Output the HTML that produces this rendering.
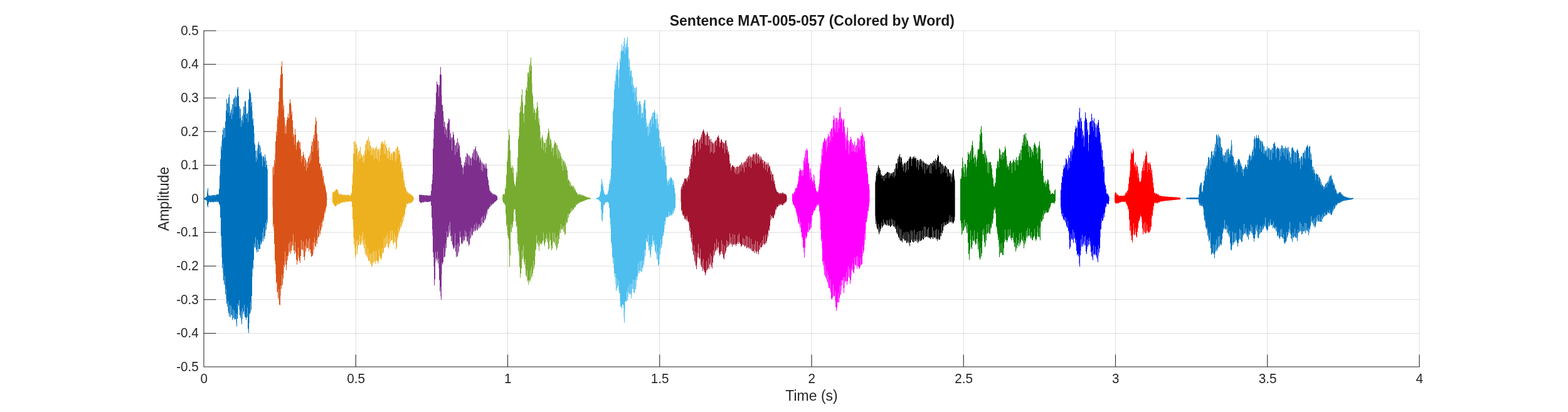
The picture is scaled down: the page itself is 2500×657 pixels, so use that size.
<!DOCTYPE html>
<html><head><meta charset="utf-8"><title>Sentence MAT-005-057</title>
<style>html,body{margin:0;padding:0;background:#fff;width:2500px;height:657px;overflow:hidden}svg{display:block}</style></head>
<body><svg width="2500" height="657" viewBox="0 0 2500 657">
<rect width="2500" height="657" fill="#fff"/>
<g stroke="#262626" stroke-opacity="0.15" stroke-width="1.04" fill="none"><path d="M567.25 49.0V585.0"/><path d="M809.50 49.0V585.0"/><path d="M1051.75 49.0V585.0"/><path d="M1294.00 49.0V585.0"/><path d="M1536.25 49.0V585.0"/><path d="M1778.50 49.0V585.0"/><path d="M2020.75 49.0V585.0"/><path d="M2263.00 49.0V585.0"/><path d="M325.0 531.40H2263.0"/><path d="M325.0 477.80H2263.0"/><path d="M325.0 424.20H2263.0"/><path d="M325.0 370.60H2263.0"/><path d="M325.0 317.00H2263.0"/><path d="M325.0 263.40H2263.0"/><path d="M325.0 209.80H2263.0"/><path d="M325.0 156.20H2263.0"/><path d="M325.0 102.60H2263.0"/><path d="M325.0 49.00H2263.0"/></g>
<path d="M567.25 585.0V565.6M809.50 585.0V565.6M1051.75 585.0V565.6M1294.00 585.0V565.6M1536.25 585.0V565.6M1778.50 585.0V565.6M2020.75 585.0V565.6M2263.00 585.0V565.6M325.0 531.40H344.4M325.0 477.80H344.4M325.0 424.20H344.4M325.0 370.60H344.4M325.0 317.00H344.4M325.0 263.40H344.4M325.0 209.80H344.4M325.0 156.20H344.4M325.0 102.60H344.4M325.0 49.00H344.4" stroke="#262626" stroke-width="1.04" fill="none"/>
<path d="M325.0 317.0V316.0H326.0V315.5H327.0V315.1H328.0V314.1H329.0V313.2H330.0V307.2H331.0V300.0H332.0V311.7H333.0V311.8H334.0V311.8H335.0V313.0H336.0V311.6H337.0V312.5H338.0V311.2H339.0V311.2H340.0V311.6H341.0V310.8H342.0V310.9H343.0V312.6H344.0V310.5H345.0V311.0H346.0V309.8H347.0V309.4H348.0V310.6H349.0V301.0H350.0V280.8H351.0V253.9H352.0V233.5H353.0V239.2H354.0V215.2H355.0V207.1H356.0V221.0H357.0V204.1H358.0V219.0H359.0V193.5H360.0V176.5H361.0V158.0H362.0V165.0H363.0V179.4H364.0V155.6H365.0V150.4H366.0V184.7H367.0V179.7H368.0V174.9H369.0V189.7H370.0V166.1H371.0V181.8H372.0V158.0H373.0V156.1H374.0V170.3H375.0V152.2H376.0V169.4H377.0V154.4H378.0V142.3H379.0V138.9H380.0V153.1H381.0V169.4H382.0V188.2H383.0V173.4H384.0V201.9H385.0V191.7H386.0V184.6H387.0V195.5H388.0V170.0H389.0V182.8H390.0V161.8H391.0V161.0H392.0V189.0H393.0V181.5H394.0V180.8H395.0V194.5H396.0V158.4H397.0V142.0H398.0V146.2H399.0V148.4H400.0V169.4H401.0V162.9H402.0V191.8H403.0V188.9H404.0V200.2H405.0V227.5H406.0V230.4H407.0V240.2H408.0V257.7H409.0V240.3H410.0V253.7H411.0V230.5H412.0V226.0H413.0V244.8H414.0V231.7H415.0V245.3H416.0V242.5H417.0V248.6H418.0V264.9H419.0V248.7H420.0V249.4H421.0V257.0H422.0V246.3H423.0V266.3H424.0V256.1H425.0V263.3H426.0V269.2H426.8V355.8V355.8H426.0V350.4H425.0V366.1H424.0V355.7H423.0V376.4H422.0V380.9H421.0V363.4H420.0V384.9H419.0V371.1H418.0V386.2H417.0V389.8H416.0V384.6H415.0V397.1H414.0V397.2H413.0V389.8H412.0V401.8H411.0V382.3H410.0V402.3H409.0V398.2H408.0V378.3H407.0V395.3H406.0V387.9H405.0V414.6H404.0V429.2H403.0V426.4H402.0V472.1H401.0V494.1H400.0V482.2H399.0V500.3H398.0V500.5H397.0V530.8H396.0V524.4H395.0V490.5H394.0V506.2H393.0V510.0H392.0V506.2H391.0V505.2H390.0V485.9H389.0V496.8H388.0V500.6H387.0V491.5H386.0V517.0H385.0V496.4H384.0V506.8H383.0V502.8H382.0V478.8H381.0V487.5H380.0V484.5H379.0V508.0H378.0V520.5H377.0V499.7H376.0V509.0H375.0V508.9H374.0V495.7H373.0V506.8H372.0V492.9H371.0V510.2H370.0V502.1H369.0V488.3H368.0V505.9H367.0V486.1H366.0V505.1H365.0V498.8H364.0V480.4H363.0V488.5H362.0V483.9H361.0V461.6H360.0V469.5H359.0V440.0H358.0V453.5H357.0V447.3H356.0V420.5H355.0V428.1H354.0V393.9H353.0V376.2H352.0V347.1H351.0V326.5H350.0V325.7H349.0V322.8H348.0V321.4H347.0V322.4H346.0V320.6H345.0V321.9H344.0V322.0H343.0V320.8H342.0V322.3H341.0V322.5H340.0V322.3H339.0V322.4H338.0V321.3H337.0V322.4H336.0V322.5H335.0V321.3H334.0V322.1H333.0V324.4H332.0V330.4H331.0V327.8H330.0V319.9H329.0V319.5H328.0V319.0H327.0V318.5H326.0V318.0H325.0Z" fill="#0072BD"/>
<path d="M330.0 303.4H331.0V307.2H330.0ZM332.0 309.4H333.0V311.7H332.0ZM332.0 324.4H333.0V325.2H332.0ZM334.0 321.3H335.0V322.0H334.0ZM335.0 311.8H336.0V313.0H335.0ZM337.0 311.3H338.0V312.5H337.0ZM337.0 321.3H338.0V322.3H337.0ZM340.0 311.0H341.0V311.6H340.0ZM342.0 320.8H343.0V321.9H342.0ZM343.0 310.8H344.0V312.6H343.0ZM345.0 310.3H346.0V311.0H345.0ZM345.0 320.6H346.0V321.8H345.0ZM347.0 321.4H348.0V322.2H347.0ZM348.0 309.2H349.0V310.6H348.0ZM350.0 276.9H351.0V280.8H350.0ZM350.0 326.5H351.0V329.5H350.0ZM353.0 224.2H354.0V239.2H353.0ZM353.0 393.9H354.0V410.6H353.0ZM355.0 420.5H356.0V435.5H355.0ZM356.0 202.5H357.0V221.0H356.0ZM358.0 204.0H359.0V219.0H358.0ZM358.0 440.0H359.0V455.0H358.0ZM360.0 461.6H361.0V476.6H360.0ZM363.0 164.4H364.0V179.4H363.0ZM363.0 480.4H364.0V495.4H363.0ZM366.0 169.7H367.0V184.7H366.0ZM366.0 486.1H367.0V501.1H366.0ZM368.0 488.3H369.0V503.3H368.0ZM369.0 171.9H370.0V189.7H369.0ZM371.0 166.8H372.0V181.8H371.0ZM371.0 492.9H372.0V507.9H371.0ZM373.0 495.7H374.0V510.7H373.0ZM374.0 155.3H375.0V170.3H374.0ZM376.0 154.4H377.0V169.4H376.0ZM376.0 499.7H377.0V514.7H376.0ZM379.0 484.5H380.0V499.5H379.0ZM381.0 478.8H382.0V493.8H381.0ZM382.0 173.2H383.0V188.2H382.0ZM384.0 186.9H385.0V201.9H384.0ZM384.0 496.4H385.0V511.4H384.0ZM386.0 491.5H387.0V508.9H386.0ZM387.0 180.5H388.0V195.5H387.0ZM389.0 169.5H390.0V182.8H389.0ZM389.0 485.9H390.0V500.9H389.0ZM392.0 171.6H393.0V189.0H392.0ZM394.0 490.5H395.0V505.5H394.0ZM395.0 177.6H396.0V194.5H395.0ZM397.0 500.5H398.0V515.5H397.0ZM399.0 482.2H400.0V498.3H399.0ZM400.0 154.4H401.0V169.4H400.0ZM402.0 176.8H403.0V191.8H402.0ZM402.0 426.4H403.0V441.4H402.0ZM405.0 212.4H406.0V227.5H405.0ZM405.0 387.9H406.0V394.0H405.0ZM407.0 378.3H408.0V393.3H407.0ZM408.0 251.0H409.0V257.7H408.0ZM410.0 237.0H411.0V253.7H410.0ZM410.0 382.3H411.0V397.3H410.0ZM412.0 389.8H413.0V397.1H412.0ZM413.0 231.3H414.0V244.8H413.0ZM415.0 235.6H416.0V245.3H415.0ZM415.0 384.6H416.0V389.7H415.0ZM418.0 251.6H419.0V264.9H418.0ZM418.0 371.1H419.0V381.5H418.0ZM420.0 363.4H421.0V378.4H420.0ZM421.0 251.8H422.0V257.0H421.0ZM423.0 250.6H424.0V266.3H423.0ZM423.0 355.7H424.0V368.6H423.0ZM425.0 350.4H426.0V358.9H425.0Z" fill="#0072BD" fill-opacity="0.5"/>
<path d="M434.6 317.0V267.4H435.0V265.2H436.0V278.6H437.0V254.9H438.0V260.5H439.0V225.4H440.0V210.0H441.0V215.7H442.0V185.4H443.0V190.3H444.0V162.0H445.0V141.1H446.0V139.8H447.0V119.2H448.0V106.0H449.0V97.7H450.0V117.6H451.0V174.3H452.0V168.3H453.0V187.2H454.0V212.7H455.0V200.6H456.0V212.7H457.0V191.2H458.0V186.8H459.0V181.0H460.0V188.2H461.0V164.9H462.0V158.3H463.0V164.2H464.0V183.0H465.0V177.6H466.0V192.0H467.0V218.2H468.0V214.0H469.0V230.4H470.0V205.5H471.0V214.8H472.0V238.5H473.0V227.3H474.0V226.4H475.0V223.0H476.0V225.4H477.0V235.9H478.0V227.1H479.0V238.4H480.0V258.2H481.0V249.1H482.0V253.4H483.0V242.3H484.0V247.0H485.0V265.1H486.0V251.6H487.0V255.8H488.0V272.1H489.0V257.7H490.0V267.2H491.0V252.6H492.0V249.5H493.0V260.4H494.0V244.7H495.0V255.8H496.0V232.4H497.0V225.3H498.0V241.7H499.0V220.8H500.0V215.3H501.0V223.9H502.0V199.1H503.0V187.3H504.0V193.2H505.0V213.2H506.0V239.9H507.0V224.9H508.0V249.5H509.0V260.5H510.0V261.0H511.0V270.3H512.0V266.0H513.0V271.8H514.0V283.8H515.0V280.5H516.0V294.5H517.0V291.8H518.0V296.5H519.0V303.4H520.0V307.2H521.0V314.4H521.3V320.2V320.2H521.0V329.6H520.0V332.0H519.0V339.2H518.0V336.5H517.0V347.3H516.0V352.4H515.0V350.1H514.0V361.4H513.0V355.1H512.0V367.5H511.0V373.7H510.0V359.7H509.0V377.1H508.0V378.2H507.0V366.7H506.0V389.4H505.0V382.9H504.0V393.9H503.0V392.3H502.0V378.5H501.0V397.9H500.0V386.5H499.0V407.3H498.0V408.7H497.0V409.4H496.0V403.7H495.0V398.0H494.0V380.3H493.0V401.0H492.0V384.2H491.0V395.6H490.0V396.3H489.0V381.6H488.0V401.5H487.0V391.7H486.0V415.0H485.0V409.7H484.0V384.9H483.0V397.7H482.0V398.6H481.0V383.1H480.0V408.1H479.0V419.2H478.0V415.5H477.0V411.5H476.0V395.1H475.0V416.2H474.0V422.0H473.0V414.1H472.0V402.8H471.0V385.7H470.0V405.0H469.0V399.2H468.0V373.5H467.0V391.4H466.0V385.7H465.0V400.0H464.0V405.0H463.0V385.0H462.0V402.0H461.0V388.7H460.0V408.5H459.0V415.2H458.0V408.5H457.0V430.5H456.0V422.2H455.0V401.2H454.0V426.0H453.0V422.7H452.0V444.1H451.0V454.3H450.0V438.2H449.0V460.7H448.0V455.4H447.0V486.8H446.0V485.8H445.0V461.2H444.0V475.4H443.0V465.6H442.0V448.9H441.0V451.6H440.0V421.7H439.0V415.4H438.0V388.8H437.0V357.3H436.0V361.4H435.0V329.3H434.6Z" fill="#D95319"/>
<path d="M434.6 329.3H435.0V331.7H434.6ZM436.0 266.6H437.0V278.6H436.0ZM436.0 357.3H437.0V368.3H436.0ZM438.0 245.5H439.0V260.5H438.0ZM439.0 421.7H440.0V436.7H439.0ZM441.0 198.3H442.0V215.7H441.0ZM441.0 448.9H442.0V466.4H441.0ZM443.0 175.3H444.0V190.3H443.0ZM444.0 461.2H445.0V477.8H444.0ZM446.0 124.8H447.0V139.8H446.0ZM447.0 455.4H448.0V471.2H447.0ZM449.0 438.2H450.0V455.5H449.0ZM451.0 159.0H452.0V174.3H451.0ZM452.0 422.7H453.0V436.2H452.0ZM454.0 196.5H455.0V212.7H454.0ZM454.0 401.2H455.0V416.2H454.0ZM456.0 197.8H457.0V212.7H456.0ZM457.0 408.5H458.0V421.2H457.0ZM460.0 388.7H461.0V403.3H460.0ZM462.0 385.0H463.0V400.0H462.0ZM464.0 168.0H465.0V183.0H464.0ZM465.0 385.7H466.0V394.0H465.0ZM467.0 202.9H468.0V218.2H467.0ZM467.0 373.5H468.0V391.8H467.0ZM469.0 215.4H470.0V230.4H469.0ZM470.0 385.7H471.0V399.5H470.0ZM472.0 231.9H473.0V238.5H472.0ZM475.0 395.1H476.0V407.5H475.0ZM477.0 225.5H478.0V235.9H477.0ZM480.0 248.6H481.0V258.2H480.0ZM480.0 383.1H481.0V397.3H480.0ZM482.0 248.4H483.0V253.4H482.0ZM483.0 384.9H484.0V399.9H483.0ZM485.0 252.0H486.0V265.1H485.0ZM486.0 391.7H487.0V408.5H486.0ZM488.0 260.5H489.0V272.1H488.0ZM488.0 381.6H489.0V394.3H488.0ZM490.0 258.6H491.0V267.2H490.0ZM491.0 384.2H492.0V395.8H491.0ZM493.0 248.1H494.0V260.4H493.0ZM493.0 380.3H494.0V397.5H493.0ZM495.0 240.8H496.0V255.8H495.0ZM498.0 226.7H499.0V241.7H498.0ZM499.0 386.5H500.0V404.2H499.0ZM501.0 208.9H502.0V223.9H501.0ZM501.0 378.5H502.0V387.3H501.0ZM504.0 382.9H505.0V387.4H504.0ZM506.0 223.6H507.0V239.9H506.0ZM506.0 366.7H507.0V381.2H506.0ZM508.0 236.2H509.0V249.5H508.0ZM509.0 359.7H510.0V371.7H509.0ZM511.0 267.9H512.0V270.3H511.0ZM512.0 355.1H513.0V364.7H512.0ZM514.0 277.2H515.0V283.8H514.0ZM514.0 350.1H515.0V354.2H514.0ZM516.0 287.4H517.0V294.5H516.0ZM517.0 336.5H518.0V341.7H517.0ZM519.0 301.6H520.0V303.4H519.0ZM519.0 332.0H520.0V334.8H519.0Z" fill="#D95319" fill-opacity="0.5"/>
<path d="M530.0 317.0V306.4H531.0V307.6H532.0V305.3H533.0V304.8H534.0V305.6H535.0V302.1H536.0V301.4H537.0V302.4H538.0V303.2H539.0V308.6H540.0V308.8H541.0V310.7H542.0V309.3H543.0V309.4H544.0V311.1H545.0V310.2H546.0V310.2H547.0V312.0H548.0V310.3H549.0V311.3H550.0V310.8H551.0V310.8H552.0V312.4H553.0V310.6H554.0V310.5H555.0V310.8H556.0V311.1H557.0V312.9H558.0V312.0H559.0V309.8H560.0V308.7H561.0V294.7H562.0V278.8H563.0V245.0H564.0V225.6H565.0V245.6H566.0V225.6H567.0V238.9H568.0V230.4H569.0V236.0H570.0V257.3H571.0V242.8H572.0V240.2H573.0V253.8H574.0V233.8H575.0V252.1H576.0V246.0H577.0V249.3H578.0V257.6H579.0V246.5H580.0V259.4H581.0V241.0H582.0V229.6H583.0V246.1H584.0V225.0H585.0V223.2H586.0V238.8H587.0V218.3H588.0V240.7H589.0V224.9H590.0V231.9H591.0V247.5H592.0V235.8H593.0V247.0H594.0V235.1H595.0V236.2H596.0V254.1H597.0V238.2H598.0V235.5H599.0V251.7H600.0V232.9H601.0V254.1H602.0V238.2H603.0V237.9H604.0V256.4H605.0V237.1H606.0V247.4H607.0V229.4H608.0V226.3H609.0V225.6H610.0V229.8H611.0V227.1H612.0V244.7H613.0V223.7H614.0V245.7H615.0V230.7H616.0V235.8H617.0V251.4H618.0V240.0H619.0V252.6H620.0V234.7H621.0V241.5H622.0V255.7H623.0V244.9H624.0V245.1H625.0V255.5H626.0V242.8H627.0V241.1H628.0V242.1H629.0V241.6H630.0V257.3H631.0V237.3H632.0V253.4H633.0V232.9H634.0V234.9H635.0V246.3H636.0V240.0H637.0V246.0H638.0V260.4H639.0V257.2H640.0V275.4H641.0V268.3H642.0V273.1H643.0V290.6H644.0V286.9H645.0V299.1H646.0V298.1H647.0V301.8H648.0V307.9H649.0V305.3H650.0V306.7H651.0V308.6H652.0V308.3H653.0V311.3H654.0V309.5H655.0V310.1H656.0V311.7H657.0V311.9H658.0V313.2H659.0V314.9H659.7V318.6V318.6H659.0V320.4H658.0V322.1H657.0V321.6H656.0V323.9H655.0V322.6H654.0V324.2H653.0V324.2H652.0V323.2H651.0V325.3H650.0V325.6H649.0V323.9H648.0V330.3H647.0V332.2H646.0V340.9H645.0V346.0H644.0V344.4H643.0V353.9H642.0V346.4H641.0V359.3H640.0V362.7H639.0V354.5H638.0V367.1H637.0V370.4H636.0V363.2H635.0V379.5H634.0V374.9H633.0V394.3H632.0V397.7H631.0V377.0H630.0V386.8H629.0V372.4H628.0V390.4H627.0V387.1H626.0V367.9H625.0V383.0H624.0V383.7H623.0V367.9H622.0V388.6H621.0V379.9H620.0V396.8H619.0V393.8H618.0V373.2H617.0V388.9H616.0V377.6H615.0V394.1H614.0V395.4H613.0V379.9H612.0V402.1H611.0V403.9H610.0V395.5H609.0V411.2H608.0V415.0H607.0V411.6H606.0V407.9H605.0V396.8H604.0V417.3H603.0V420.5H602.0V415.7H601.0V415.7H600.0V400.5H599.0V420.5H598.0V415.8H597.0V400.5H596.0V420.1H595.0V402.8H594.0V423.4H593.0V426.0H592.0V404.3H591.0V421.1H590.0V405.2H589.0V416.7H588.0V415.4H587.0V396.5H586.0V410.0H585.0V407.8H584.0V389.4H583.0V406.3H582.0V381.7H581.0V395.7H580.0V389.9H579.0V370.5H578.0V387.0H577.0V376.3H576.0V390.1H575.0V390.4H574.0V374.7H573.0V390.5H572.0V391.4H571.0V382.6H570.0V405.0H569.0V384.6H568.0V406.7H567.0V410.5H566.0V380.9H565.0V390.4H564.0V361.1H563.0V349.6H562.0V330.0H561.0V320.8H560.0V321.3H559.0V321.1H558.0V321.2H557.0V321.3H556.0V321.5H555.0V321.7H554.0V321.7H553.0V320.6H552.0V322.2H551.0V321.3H550.0V322.5H549.0V322.6H548.0V321.7H547.0V323.0H546.0V323.3H545.0V322.1H544.0V323.9H543.0V323.2H542.0V325.2H541.0V325.6H540.0V324.6H539.0V326.8H538.0V324.3H537.0V327.9H536.0V328.4H535.0V329.2H534.0V328.2H533.0V326.7H532.0V323.9H531.0V323.7H530.0Z" fill="#EDB120"/>
<path d="M531.0 306.0H532.0V307.6H531.0ZM531.0 323.9H532.0V324.7H531.0ZM534.0 304.1H535.0V305.6H534.0ZM537.0 324.3H538.0V326.9H537.0ZM539.0 305.6H540.0V308.6H539.0ZM539.0 324.6H540.0V325.7H539.0ZM541.0 309.5H542.0V310.7H541.0ZM542.0 323.2H543.0V324.3H542.0ZM544.0 309.9H545.0V311.1H544.0ZM544.0 322.1H545.0V323.5H544.0ZM547.0 310.3H548.0V312.0H547.0ZM547.0 321.7H548.0V322.6H547.0ZM549.0 310.7H550.0V311.3H549.0ZM550.0 321.3H551.0V322.2H550.0ZM552.0 310.9H553.0V312.4H552.0ZM552.0 320.6H553.0V321.8H552.0ZM557.0 311.6H558.0V312.9H557.0ZM560.0 306.7H561.0V308.7H560.0ZM560.0 320.8H561.0V322.2H560.0ZM562.0 275.3H563.0V278.8H562.0ZM563.0 361.1H564.0V379.3H563.0ZM565.0 226.7H566.0V245.6H565.0ZM565.0 380.9H566.0V396.5H565.0ZM567.0 230.1H568.0V238.9H567.0ZM568.0 384.6H569.0V393.5H568.0ZM570.0 247.2H571.0V257.3H570.0ZM570.0 382.6H571.0V397.6H570.0ZM573.0 240.0H574.0V253.8H573.0ZM573.0 374.7H574.0V384.9H573.0ZM575.0 243.4H576.0V252.1H575.0ZM576.0 376.3H577.0V383.8H576.0ZM578.0 249.1H579.0V257.6H578.0ZM578.0 370.5H579.0V383.1H578.0ZM580.0 247.9H581.0V259.4H580.0ZM581.0 381.7H582.0V400.7H581.0ZM583.0 231.1H584.0V246.1H583.0ZM583.0 389.4H584.0V404.4H583.0ZM586.0 222.6H587.0V238.8H586.0ZM586.0 396.5H587.0V412.2H586.0ZM588.0 225.7H589.0V240.7H588.0ZM589.0 405.2H590.0V416.1H589.0ZM591.0 233.3H592.0V247.5H591.0ZM591.0 404.3H592.0V419.3H591.0ZM593.0 238.9H594.0V247.0H593.0ZM594.0 402.8H595.0V417.8H594.0ZM596.0 239.9H597.0V254.1H596.0ZM596.0 400.5H597.0V418.3H596.0ZM599.0 236.1H600.0V251.7H599.0ZM599.0 400.5H600.0V417.4H599.0ZM601.0 237.5H602.0V254.1H601.0ZM604.0 241.4H605.0V256.4H604.0ZM604.0 396.8H605.0V413.4H604.0ZM606.0 236.4H607.0V247.4H606.0ZM609.0 395.5H610.0V405.4H609.0ZM612.0 229.7H613.0V244.7H612.0ZM612.0 379.9H613.0V394.9H612.0ZM614.0 230.7H615.0V245.7H614.0ZM615.0 377.6H616.0V392.0H615.0ZM617.0 239.8H618.0V251.4H617.0ZM617.0 373.2H618.0V388.2H617.0ZM619.0 236.9H620.0V252.6H619.0ZM620.0 379.9H621.0V392.5H620.0ZM622.0 248.9H623.0V255.7H622.0ZM622.0 367.9H623.0V385.5H622.0ZM625.0 245.9H626.0V255.5H625.0ZM625.0 367.9H626.0V381.9H625.0ZM628.0 372.4H629.0V385.0H628.0ZM630.0 244.3H631.0V257.3H630.0ZM630.0 377.0H631.0V387.2H630.0ZM632.0 235.7H633.0V253.4H632.0ZM633.0 374.9H634.0V383.2H633.0ZM635.0 239.3H636.0V246.3H635.0ZM635.0 363.2H636.0V373.8H635.0ZM638.0 249.4H639.0V260.4H638.0ZM638.0 354.5H639.0V362.4H638.0ZM640.0 261.4H641.0V275.4H640.0ZM641.0 346.4H642.0V357.1H641.0ZM643.0 281.2H644.0V290.6H643.0ZM643.0 344.4H644.0V350.8H643.0ZM645.0 294.1H646.0V299.1H645.0ZM646.0 332.2H647.0V334.5H646.0ZM648.0 304.6H649.0V307.9H648.0ZM648.0 323.9H649.0V325.9H648.0ZM651.0 308.0H652.0V308.6H651.0ZM651.0 323.2H652.0V324.7H651.0ZM653.0 308.8H654.0V311.3H653.0ZM654.0 322.6H655.0V323.7H654.0ZM656.0 311.0H657.0V311.7H656.0ZM656.0 321.6H657.0V323.3H656.0Z" fill="#EDB120" fill-opacity="0.5"/>
<path d="M668.2 317.0V310.2H669.0V310.4H670.0V311.1H671.0V310.7H672.0V310.6H673.0V311.6H674.0V310.9H675.0V311.0H676.0V312.2H677.0V311.1H678.0V312.4H679.0V311.3H680.0V311.3H681.0V312.1H682.0V311.5H683.0V312.8H684.0V311.6H685.0V311.7H686.0V311.9H687.0V304.3H688.0V293.3H689.0V286.9H690.0V236.9H691.0V220.8H692.0V189.1H693.0V178.3H694.0V182.5H695.0V147.5H696.0V130.1H697.0V134.7H698.0V134.7H699.0V153.9H700.0V135.7H701.0V119.0H702.0V106.7H703.0V119.0H704.0V166.4H705.0V167.4H706.0V177.2H707.0V201.7H708.0V193.9H709.0V213.9H710.0V202.8H711.0V206.8H712.0V219.3H713.0V196.9H714.0V194.4H715.0V188.7H716.0V190.6H717.0V222.8H718.0V212.6H719.0V218.9H720.0V239.8H721.0V218.7H722.0V210.5H723.0V214.8H724.0V223.3H725.0V246.9H726.0V231.5H727.0V227.9H728.0V242.2H729.0V220.5H730.0V236.8H731.0V228.7H732.0V232.2H733.0V250.5H734.0V251.2H735.0V262.6H736.0V263.1H737.0V267.0H738.0V277.6H739.0V264.5H740.0V259.1H741.0V264.4H742.0V249.7H743.0V259.4H744.0V244.0H745.0V245.8H746.0V262.4H747.0V247.4H748.0V263.3H749.0V250.2H750.0V252.6H751.0V263.9H752.0V249.8H753.0V244.4H754.0V252.6H755.0V238.0H756.0V254.9H757.0V237.3H758.0V233.2H759.0V255.4H760.0V241.6H761.0V250.8H762.0V247.0H763.0V249.5H764.0V259.0H765.0V251.9H766.0V255.4H767.0V271.1H768.0V258.1H769.0V273.3H770.0V260.4H771.0V262.1H772.0V267.7H773.0V260.7H774.0V268.6H775.0V260.7H776.0V268.7H777.0V283.1H778.0V287.3H779.0V295.6H780.0V303.6H781.0V303.9H782.0V306.8H783.0V306.8H784.0V308.0H785.0V310.6H786.0V308.8H787.0V310.7H788.0V309.6H789.0V310.2H790.0V311.4H791.0V311.6H792.0V313.1H793.0V315.3H793.2V317.6V317.6H793.0V318.9H792.0V319.9H791.0V320.9H790.0V321.8H789.0V321.9H788.0V323.8H787.0V325.0H786.0V324.5H785.0V326.6H784.0V327.8H783.0V325.3H782.0V330.1H781.0V329.5H780.0V332.7H779.0V333.5H778.0V333.6H777.0V341.4H776.0V338.5H775.0V348.3H774.0V351.3H773.0V343.7H772.0V355.3H771.0V355.4H770.0V345.3H769.0V358.2H768.0V347.3H767.0V360.4H766.0V363.3H765.0V357.1H764.0V364.4H763.0V358.3H762.0V366.4H761.0V367.2H760.0V355.8H759.0V367.6H758.0V368.7H757.0V358.5H756.0V369.4H755.0V364.3H754.0V375.6H753.0V374.0H752.0V363.6H751.0V379.7H750.0V368.9H749.0V389.6H748.0V392.2H747.0V377.0H746.0V385.5H745.0V384.2H744.0V370.1H743.0V378.2H742.0V367.8H741.0V382.8H740.0V385.2H739.0V376.6H738.0V387.8H737.0V389.5H736.0V387.5H735.0V378.6H734.0V369.2H733.0V392.7H732.0V401.3H731.0V387.5H730.0V409.2H729.0V389.9H728.0V410.0H727.0V401.2H726.0V372.3H725.0V395.6H724.0V397.7H723.0V394.6H722.0V390.5H721.0V375.5H720.0V384.7H719.0V376.4H718.0V354.0H717.0V370.9H716.0V359.7H715.0V378.5H714.0V378.0H713.0V369.1H712.0V395.6H711.0V388.2H710.0V409.1H709.0V410.2H708.0V395.6H707.0V418.1H706.0V421.7H705.0V419.3H704.0V477.7H703.0V457.7H702.0V464.4H701.0V446.5H700.0V411.9H699.0V419.8H698.0V401.0H697.0V416.1H696.0V412.4H695.0V402.3H694.0V445.3H693.0V455.2H692.0V409.9H691.0V402.5H690.0V366.1H689.0V346.9H688.0V328.0H687.0V321.3H686.0V321.4H685.0V321.7H684.0V322.0H683.0V322.0H682.0V322.3H681.0V322.1H680.0V322.2H679.0V320.7H678.0V322.2H677.0V321.3H676.0V322.5H675.0V322.8H674.0V322.2H673.0V323.1H672.0V323.7H671.0V323.5H670.0V322.1H669.0V320.7H668.2Z" fill="#7E2F8E"/>
<path d="M670.0 310.8H671.0V311.1H670.0ZM673.0 310.7H674.0V311.6H673.0ZM673.0 322.2H674.0V322.6H673.0ZM676.0 310.9H677.0V312.2H676.0ZM676.0 321.3H677.0V322.3H676.0ZM678.0 311.1H679.0V312.4H678.0ZM678.0 320.7H679.0V322.2H678.0ZM681.0 311.6H682.0V312.1H681.0ZM683.0 311.7H684.0V312.8H683.0ZM686.0 310.4H687.0V311.9H686.0ZM689.0 277.7H690.0V286.9H689.0ZM689.0 366.1H690.0V375.7H689.0ZM691.0 205.8H692.0V220.8H691.0ZM691.0 409.9H692.0V424.9H691.0ZM694.0 167.5H695.0V182.5H694.0ZM694.0 402.3H695.0V417.3H694.0ZM697.0 401.0H698.0V413.9H697.0ZM699.0 138.9H700.0V153.9H699.0ZM699.0 411.9H700.0V427.7H699.0ZM702.0 457.7H703.0V472.7H702.0ZM704.0 151.4H705.0V166.4H704.0ZM704.0 419.3H705.0V437.2H704.0ZM707.0 186.7H708.0V201.7H707.0ZM707.0 395.6H708.0V410.6H707.0ZM709.0 195.3H710.0V213.9H709.0ZM710.0 388.2H711.0V400.8H710.0ZM712.0 204.3H713.0V219.3H712.0ZM712.0 369.1H713.0V382.2H712.0ZM715.0 359.7H716.0V375.2H715.0ZM717.0 207.8H718.0V222.8H717.0ZM717.0 354.0H718.0V367.3H717.0ZM720.0 221.3H721.0V239.8H720.0ZM720.0 375.5H721.0V384.6H720.0ZM725.0 231.9H726.0V246.9H725.0ZM725.0 372.3H726.0V391.4H725.0ZM728.0 227.2H729.0V242.2H728.0ZM728.0 389.9H729.0V408.2H728.0ZM730.0 226.3H731.0V236.8H730.0ZM730.0 387.5H731.0V405.1H730.0ZM733.0 243.4H734.0V250.5H733.0ZM733.0 369.2H734.0V378.1H733.0ZM735.0 256.0H736.0V262.6H735.0ZM738.0 267.3H739.0V277.6H738.0ZM738.0 376.6H739.0V382.9H738.0ZM741.0 255.7H742.0V264.4H741.0ZM741.0 367.8H742.0V376.9H741.0ZM743.0 250.7H744.0V259.4H743.0ZM743.0 370.1H744.0V377.2H743.0ZM746.0 248.6H747.0V262.4H746.0ZM746.0 377.0H747.0V388.0H746.0ZM748.0 248.6H749.0V263.3H748.0ZM749.0 368.9H750.0V380.9H749.0ZM751.0 252.9H752.0V263.9H751.0ZM751.0 363.6H752.0V376.7H751.0ZM754.0 242.6H755.0V252.6H754.0ZM754.0 364.3H755.0V369.8H754.0ZM756.0 239.8H757.0V254.9H756.0ZM756.0 358.5H757.0V366.7H756.0ZM759.0 240.4H760.0V255.4H759.0ZM759.0 355.8H760.0V364.1H759.0ZM761.0 244.2H762.0V250.8H761.0ZM762.0 358.3H763.0V362.2H762.0ZM764.0 254.6H765.0V259.0H764.0ZM764.0 357.1H765.0V360.6H764.0ZM767.0 259.4H768.0V271.1H767.0ZM767.0 347.3H768.0V359.9H767.0ZM769.0 261.6H770.0V273.3H769.0ZM769.0 345.3H770.0V354.1H769.0ZM772.0 263.9H773.0V267.7H772.0ZM772.0 343.7H773.0V351.3H772.0ZM774.0 265.3H775.0V268.6H774.0ZM775.0 338.5H776.0V344.0H775.0ZM777.0 281.6H778.0V283.1H777.0ZM777.0 333.6H778.0V335.8H777.0ZM780.0 299.3H781.0V303.6H780.0ZM780.0 329.5H781.0V331.1H780.0ZM782.0 305.9H783.0V306.8H782.0ZM782.0 325.3H783.0V328.0H782.0ZM785.0 308.5H786.0V310.6H785.0ZM785.0 324.5H786.0V325.4H785.0ZM787.0 309.7H788.0V310.7H787.0ZM788.0 321.9H789.0V322.5H788.0ZM790.0 311.0H791.0V311.4H790.0Z" fill="#7E2F8E" fill-opacity="0.5"/>
<path d="M801.2 317.0V311.3H802.0V309.8H803.0V309.1H804.0V310.5H805.0V300.8H806.0V299.8H807.0V278.7H808.0V257.6H809.0V251.7H810.0V223.5H811.0V205.9H812.0V215.3H813.0V239.5H814.0V266.9H815.0V267.9H816.0V263.9H817.0V275.4H818.0V267.2H819.0V289.1H820.0V293.2H821.0V296.7H822.0V290.0H823.0V274.7H824.0V281.4H825.0V251.2H826.0V221.8H827.0V216.5H828.0V180.1H829.0V169.6H830.0V177.5H831.0V151.5H832.0V142.2H833.0V162.5H834.0V181.1H835.0V195.1H836.0V167.3H837.0V167.2H838.0V143.3H839.0V139.3H840.0V145.0H841.0V116.2H842.0V115.5H843.0V122.3H844.0V102.9H845.0V112.9H846.0V91.4H847.0V104.8H848.0V147.9H849.0V152.5H850.0V180.1H851.0V172.0H852.0V175.6H853.0V190.9H854.0V180.2H855.0V172.8H856.0V163.0H857.0V170.3H858.0V194.4H859.0V188.8H860.0V199.7H861.0V223.2H862.0V219.4H863.0V236.2H864.0V215.6H865.0V219.6H866.0V239.2H867.0V227.2H868.0V228.0H869.0V243.3H870.0V222.5H871.0V234.9H872.0V218.2H873.0V212.7H874.0V204.9H875.0V209.3H876.0V230.9H877.0V220.7H878.0V223.2H879.0V241.3H880.0V235.3H881.0V236.1H882.0V248.3H883.0V230.2H884.0V224.5H885.0V227.7H886.0V228.3H887.0V246.1H888.0V231.5H889.0V252.4H890.0V238.3H891.0V240.4H892.0V252.5H893.0V243.7H894.0V248.5H895.0V263.9H896.0V252.9H897.0V271.9H898.0V255.6H899.0V257.1H900.0V263.9H901.0V259.4H902.0V270.3H903.0V265.5H904.0V271.7H905.0V288.1H906.0V286.3H907.0V287.7H908.0V296.2H909.0V290.6H910.0V297.6H911.0V295.6H912.0V296.5H913.0V298.7H914.0V296.1H915.0V302.9H916.0V300.2H917.0V302.9H918.0V307.1H919.0V306.4H920.0V308.5H921.0V311.1H922.0V309.4H923.0V311.6H924.0V309.6H925.0V310.1H926.0V312.2H927.0V310.4H928.0V311.8H929.0V311.4H930.0V311.8H931.0V312.3H932.0V312.9H933.0V313.3H934.0V313.8H935.0V314.2H936.0V314.5H937.0V314.7H938.0V314.9H939.0V315.2H940.0V315.4H941.0V315.7H941.9V317.2V317.2H941.0V317.4H940.0V317.6H939.0V317.8H938.0V318.0H937.0V318.2H936.0V318.5H935.0V318.8H934.0V319.3H933.0V319.7H932.0V320.1H931.0V320.6H930.0V320.9H929.0V321.4H928.0V321.8H927.0V322.3H926.0V322.1H925.0V323.3H924.0V322.1H923.0V324.6H922.0V325.3H921.0V323.9H920.0V327.0H919.0V325.8H918.0V329.7H917.0V331.2H916.0V329.9H915.0V333.9H914.0V334.7H913.0V332.6H912.0V337.2H911.0V332.8H910.0V339.0H909.0V341.7H908.0V340.7H907.0V347.1H906.0V341.2H905.0V354.8H904.0V355.6H903.0V352.5H902.0V373.1H901.0V374.5H900.0V359.8H899.0V368.9H898.0V360.8H897.0V365.1H896.0V366.8H895.0V357.4H894.0V371.5H893.0V366.5H892.0V381.0H891.0V388.8H890.0V376.0H889.0V395.4H888.0V398.9H887.0V378.6H886.0V391.5H885.0V371.8H884.0V387.3H883.0V385.1H882.0V371.0H881.0V396.3H880.0V398.9H879.0V391.4H878.0V382.4H877.0V371.6H876.0V396.5H875.0V397.7H874.0V379.8H873.0V385.6H872.0V373.2H871.0V380.3H870.0V386.2H869.0V392.8H868.0V389.2H867.0V371.3H866.0V384.1H865.0V387.5H864.0V390.4H863.0V387.7H862.0V389.0H861.0V386.0H860.0V400.1H859.0V383.6H858.0V390.8H857.0V387.1H856.0V375.3H855.0V397.8H854.0V399.8H853.0V422.6H852.0V428.3H851.0V416.1H850.0V436.0H849.0V441.6H848.0V425.4H847.0V445.4H846.0V431.0H845.0V449.9H844.0V446.8H843.0V453.7H842.0V448.5H841.0V431.6H840.0V441.4H839.0V438.8H838.0V412.9H837.0V422.0H836.0V417.5H835.0V392.0H834.0V412.9H833.0V399.0H832.0V427.9H831.0V436.3H830.0V442.7H829.0V425.8H828.0V391.8H827.0V400.7H826.0V388.7H825.0V360.6H824.0V361.9H823.0V353.4H822.0V334.6H821.0V333.6H820.0V334.5H819.0V353.1H818.0V362.3H817.0V357.8H816.0V370.2H815.0V357.9H814.0V407.2H813.0V425.7H812.0V382.0H811.0V379.4H810.0V375.1H809.0V357.4H808.0V360.5H807.0V340.2H806.0V326.7H805.0V325.4H804.0V323.5H803.0V322.9H802.0V320.6H801.2Z" fill="#77AC30"/>
<path d="M801.2 310.6H802.0V311.3H801.2ZM803.0 323.5H804.0V323.7H803.0ZM804.0 308.9H805.0V310.5H804.0ZM806.0 294.1H807.0V299.8H806.0ZM806.0 340.2H807.0V343.7H806.0ZM808.0 357.4H809.0V367.5H808.0ZM809.0 241.3H810.0V251.7H809.0ZM811.0 382.0H812.0V398.1H811.0ZM814.0 258.8H815.0V266.9H814.0ZM814.0 357.9H815.0V370.1H814.0ZM816.0 357.8H817.0V364.3H816.0ZM817.0 266.8H818.0V275.4H817.0ZM819.0 281.7H820.0V289.1H819.0ZM819.0 334.5H820.0V338.1H819.0ZM821.0 334.6H822.0V341.9H821.0ZM822.0 284.7H823.0V290.0H822.0ZM824.0 273.7H825.0V281.4H824.0ZM824.0 360.6H825.0V373.1H824.0ZM827.0 202.9H828.0V216.5H827.0ZM827.0 391.8H828.0V406.8H827.0ZM830.0 162.5H831.0V177.5H830.0ZM832.0 399.0H833.0V414.0H832.0ZM834.0 392.0H835.0V408.9H834.0ZM835.0 180.1H836.0V195.1H835.0ZM837.0 152.2H838.0V167.2H837.0ZM837.0 412.9H838.0V427.9H837.0ZM840.0 130.0H841.0V145.0H840.0ZM840.0 431.6H841.0V446.6H840.0ZM843.0 107.3H844.0V122.3H843.0ZM845.0 97.9H846.0V112.9H845.0ZM845.0 431.0H846.0V448.0H845.0ZM847.0 425.4H848.0V440.4H847.0ZM848.0 132.9H849.0V147.9H848.0ZM850.0 165.1H851.0V180.1H850.0ZM850.0 416.1H851.0V431.1H850.0ZM853.0 178.5H854.0V190.9H853.0ZM853.0 399.8H854.0V409.1H853.0ZM855.0 375.3H856.0V389.5H855.0ZM858.0 176.8H859.0V194.4H858.0ZM858.0 383.6H859.0V393.0H858.0ZM860.0 386.0H861.0V391.5H860.0ZM861.0 208.4H862.0V223.2H861.0ZM863.0 221.2H864.0V236.2H863.0ZM866.0 224.2H867.0V239.2H866.0ZM866.0 371.3H867.0V383.5H866.0ZM869.0 228.3H870.0V243.3H869.0ZM871.0 222.1H872.0V234.9H871.0ZM871.0 373.2H872.0V382.4H871.0ZM873.0 379.8H874.0V388.4H873.0ZM876.0 215.9H877.0V230.9H876.0ZM876.0 371.6H877.0V384.9H876.0ZM879.0 228.2H880.0V241.3H879.0ZM881.0 371.0H882.0V388.2H881.0ZM882.0 233.7H883.0V248.3H882.0ZM884.0 371.8H885.0V387.2H884.0ZM886.0 378.6H887.0V394.1H886.0ZM887.0 231.1H888.0V246.1H887.0ZM889.0 235.8H890.0V252.4H889.0ZM889.0 376.0H890.0V391.0H889.0ZM892.0 242.3H893.0V252.5H892.0ZM892.0 366.5H893.0V372.4H892.0ZM894.0 357.4H895.0V365.1H894.0ZM895.0 252.1H896.0V263.9H895.0ZM897.0 256.4H898.0V271.9H897.0ZM897.0 360.8H898.0V365.5H897.0ZM899.0 359.8H900.0V369.8H899.0ZM900.0 260.1H901.0V263.9H900.0ZM902.0 263.5H903.0V270.3H902.0ZM902.0 352.5H903.0V358.3H902.0ZM905.0 279.4H906.0V288.1H905.0ZM905.0 341.2H906.0V349.1H905.0ZM907.0 340.7H908.0V341.8H907.0ZM908.0 290.3H909.0V296.2H908.0ZM910.0 294.0H911.0V297.6H910.0ZM910.0 332.8H911.0V337.5H910.0ZM912.0 332.6H913.0V336.2H912.0ZM913.0 297.6H914.0V298.7H913.0ZM915.0 298.7H916.0V302.9H915.0ZM915.0 329.9H916.0V332.1H915.0ZM918.0 304.9H919.0V307.1H918.0ZM918.0 325.8H919.0V327.8H918.0ZM920.0 323.9H921.0V325.7H920.0ZM921.0 309.2H922.0V311.1H921.0ZM923.0 309.6H924.0V311.6H923.0ZM923.0 322.1H924.0V323.8H923.0ZM925.0 322.1H926.0V322.8H925.0ZM926.0 310.6H927.0V312.2H926.0ZM928.0 311.2H929.0V311.8H928.0Z" fill="#77AC30" fill-opacity="0.5"/>
<path d="M950.3 317.0V316.7H951.0V316.1H952.0V315.4H953.0V314.8H954.0V314.1H955.0V313.4H956.0V309.7H957.0V305.7H958.0V294.5H959.0V285.1H960.0V293.1H961.0V297.2H962.0V303.4H963.0V309.1H964.0V309.4H965.0V311.3H966.0V310.8H967.0V309.4H968.0V310.6H969.0V305.2H970.0V302.9H971.0V293.7H972.0V286.2H973.0V290.4H974.0V269.4H975.0V223.9H976.0V212.7H977.0V177.1H978.0V173.0H979.0V142.4H980.0V129.2H981.0V134.4H982.0V111.0H983.0V119.3H984.0V99.3H985.0V111.8H986.0V139.2H987.0V110.6H988.0V93.9H989.0V98.8H990.0V80.7H991.0V70.6H992.0V80.9H993.0V73.4H994.0V81.4H995.0V60.3H996.0V86.1H997.0V75.6H998.0V69.4H999.0V79.0H1000.0V59.0H1001.0V74.8H1002.0V107.1H1003.0V94.4H1004.0V120.5H1005.0V113.1H1006.0V112.3H1007.0V136.1H1008.0V123.0H1009.0V147.8H1010.0V136.3H1011.0V140.2H1012.0V161.3H1013.0V139.9H1014.0V138.4H1015.0V168.7H1016.0V162.1H1017.0V181.9H1018.0V166.4H1019.0V161.7H1020.0V161.0H1021.0V166.5H1022.0V188.4H1023.0V180.1H1024.0V179.4H1025.0V187.6H1026.0V164.6H1027.0V160.1H1028.0V158.9H1029.0V173.7H1030.0V203.5H1031.0V196.6H1032.0V201.6H1033.0V216.4H1034.0V197.1H1035.0V212.8H1036.0V191.8H1037.0V189.8H1038.0V201.9H1039.0V186.1H1040.0V180.1H1041.0V197.7H1042.0V178.9H1043.0V175.4H1044.0V180.1H1045.0V190.3H1046.0V204.9H1047.0V181.5H1048.0V203.8H1049.0V197.0H1050.0V207.4H1051.0V234.4H1052.0V221.0H1053.0V227.6H1054.0V249.2H1055.0V234.0H1056.0V253.9H1057.0V234.8H1058.0V232.9H1059.0V258.4H1060.0V248.8H1061.0V263.9H1062.0V264.5H1063.0V286.2H1064.0V295.7H1065.0V288.5H1066.0V286.2H1067.0V293.9H1068.0V283.9H1069.0V282.2H1070.0V283.4H1071.0V285.3H1072.0V294.9H1073.0V287.7H1074.0V295.2H1075.0V300.3H1076.0V308.3H1077.0V316.2H1077.1V318.3V318.3H1077.0V331.5H1076.0V335.8H1075.0V332.6H1074.0V340.2H1073.0V335.9H1072.0V343.0H1071.0V343.2H1070.0V340.0H1069.0V343.9H1068.0V344.3H1067.0V338.1H1066.0V346.1H1065.0V346.8H1064.0V345.7H1063.0V346.5H1062.0V347.5H1061.0V358.5H1060.0V353.0H1059.0V370.9H1058.0V376.0H1057.0V376.2H1056.0V389.8H1055.0V395.3H1054.0V381.9H1053.0V405.7H1052.0V394.6H1051.0V422.0H1050.0V423.8H1049.0V401.2H1048.0V413.4H1047.0V390.0H1046.0V403.2H1045.0V399.9H1044.0V383.0H1043.0V389.5H1042.0V384.1H1041.0V375.4H1040.0V393.8H1039.0V390.4H1038.0V410.4H1037.0V405.7H1036.0V390.8H1035.0V399.0H1034.0V374.4H1033.0V386.3H1032.0V385.3H1031.0V379.9H1030.0V398.8H1029.0V409.2H1028.0V398.4H1027.0V422.3H1026.0V414.7H1025.0V427.2H1024.0V433.5H1023.0V415.5H1022.0V432.0H1021.0V416.6H1020.0V432.1H1019.0V436.0H1018.0V419.7H1017.0V440.6H1016.0V447.1H1015.0V441.3H1014.0V462.6H1013.0V446.1H1012.0V467.3H1011.0V466.5H1010.0V445.9H1009.0V460.7H1008.0V452.1H1007.0V475.7H1006.0V469.5H1005.0V453.6H1004.0V468.8H1003.0V466.9H1002.0V458.0H1001.0V478.5H1000.0V464.8H999.0V481.2H998.0V480.0H997.0V481.6H996.0V514.2H995.0V490.4H994.0V485.7H993.0V485.7H992.0V492.5H991.0V488.7H990.0V489.5H989.0V465.8H988.0V468.0H987.0V447.8H986.0V455.4H985.0V459.1H984.0V443.7H983.0V464.0H982.0V436.2H981.0V442.4H980.0V436.1H979.0V411.7H978.0V419.8H977.0V409.9H976.0V390.7H975.0V386.2H974.0V357.3H973.0V347.6H972.0V331.3H971.0V323.5H970.0V322.9H969.0V321.5H968.0V322.5H967.0V322.9H966.0V322.3H965.0V325.2H964.0V327.2H963.0V325.9H962.0V340.1H961.0V353.5H960.0V350.7H959.0V334.0H958.0V321.4H957.0V321.2H956.0V319.7H955.0V318.3H954.0V318.1H953.0V317.9H952.0V317.6H951.0V317.4H950.3Z" fill="#4DBEEE"/>
<path d="M957.0 304.6H958.0V305.7H957.0ZM957.0 321.4H958.0V322.5H957.0ZM960.0 289.3H961.0V293.1H960.0ZM962.0 325.9H963.0V329.5H962.0ZM963.0 306.8H964.0V309.1H963.0ZM965.0 310.5H966.0V311.3H965.0ZM965.0 322.3H966.0V323.1H965.0ZM968.0 308.6H969.0V310.6H968.0ZM968.0 321.5H969.0V321.9H968.0ZM970.0 299.0H971.0V302.9H970.0ZM970.0 323.5H971.0V325.9H970.0ZM973.0 280.5H974.0V290.4H973.0ZM973.0 357.3H974.0V364.5H973.0ZM975.0 390.7H976.0V395.8H975.0ZM976.0 198.1H977.0V212.7H976.0ZM978.0 158.0H979.0V173.0H978.0ZM978.0 411.7H979.0V428.0H978.0ZM981.0 119.4H982.0V134.4H981.0ZM981.0 436.2H982.0V452.4H981.0ZM983.0 104.3H984.0V119.3H983.0ZM983.0 443.7H984.0V460.0H983.0ZM986.0 124.2H987.0V139.2H986.0ZM986.0 447.8H987.0V462.8H986.0ZM988.0 465.8H989.0V480.8H988.0ZM989.0 83.8H990.0V98.8H989.0ZM994.0 66.4H995.0V81.4H994.0ZM994.0 490.4H995.0V505.4H994.0ZM996.0 71.1H997.0V86.1H996.0ZM996.0 481.6H997.0V496.6H996.0ZM999.0 64.0H1000.0V79.0H999.0ZM999.0 464.8H1000.0V479.8H999.0ZM1001.0 458.0H1002.0V474.6H1001.0ZM1002.0 92.1H1003.0V107.1H1002.0ZM1004.0 105.5H1005.0V120.5H1004.0ZM1004.0 453.6H1005.0V468.6H1004.0ZM1007.0 121.1H1008.0V136.1H1007.0ZM1007.0 452.1H1008.0V467.1H1007.0ZM1009.0 132.8H1010.0V147.8H1009.0ZM1009.0 445.9H1010.0V460.9H1009.0ZM1012.0 146.3H1013.0V161.3H1012.0ZM1012.0 446.1H1013.0V461.1H1012.0ZM1014.0 441.3H1015.0V456.3H1014.0ZM1015.0 153.7H1016.0V168.7H1015.0ZM1017.0 166.9H1018.0V181.9H1017.0ZM1017.0 419.7H1018.0V434.7H1017.0ZM1020.0 416.6H1021.0V435.4H1020.0ZM1022.0 170.0H1023.0V188.4H1022.0ZM1022.0 415.5H1023.0V432.9H1022.0ZM1025.0 172.6H1026.0V187.6H1025.0ZM1025.0 414.7H1026.0V426.7H1025.0ZM1027.0 398.4H1028.0V416.2H1027.0ZM1030.0 188.5H1031.0V203.5H1030.0ZM1030.0 379.9H1031.0V385.8H1030.0ZM1033.0 201.9H1034.0V216.4H1033.0ZM1033.0 374.4H1034.0V392.2H1033.0ZM1035.0 195.1H1036.0V212.8H1035.0ZM1035.0 390.8H1036.0V399.9H1035.0ZM1038.0 184.9H1039.0V201.9H1038.0ZM1038.0 390.4H1039.0V398.7H1038.0ZM1040.0 375.4H1041.0V388.4H1040.0ZM1041.0 179.2H1042.0V197.7H1041.0ZM1043.0 383.0H1044.0V391.9H1043.0ZM1046.0 189.9H1047.0V204.9H1046.0ZM1046.0 390.0H1047.0V405.8H1046.0ZM1048.0 188.8H1049.0V203.8H1048.0ZM1048.0 401.2H1049.0V414.8H1048.0ZM1051.0 219.4H1052.0V234.4H1051.0ZM1051.0 394.6H1052.0V413.6H1051.0ZM1053.0 381.9H1054.0V396.9H1053.0ZM1054.0 233.0H1055.0V249.2H1054.0ZM1056.0 239.6H1057.0V253.9H1056.0ZM1056.0 376.2H1057.0V380.5H1056.0ZM1059.0 240.1H1060.0V258.4H1059.0ZM1059.0 353.0H1060.0V364.7H1059.0ZM1061.0 259.7H1062.0V263.9H1061.0ZM1061.0 347.5H1062.0V352.1H1061.0ZM1064.0 289.7H1065.0V295.7H1064.0ZM1066.0 338.1H1067.0V344.1H1066.0ZM1067.0 285.0H1068.0V293.9H1067.0ZM1069.0 340.0H1070.0V343.7H1069.0ZM1072.0 287.4H1073.0V294.9H1072.0ZM1072.0 335.9H1073.0V341.2H1072.0ZM1074.0 292.0H1075.0V295.2H1074.0ZM1074.0 332.6H1075.0V338.8H1074.0Z" fill="#4DBEEE" fill-opacity="0.5"/>
<path d="M1085.5 317.0V301.8H1086.0V297.8H1087.0V301.8H1088.0V293.5H1089.0V290.5H1090.0V295.2H1091.0V284.6H1092.0V285.2H1093.0V284.6H1094.0V284.9H1095.0V290.1H1096.0V282.8H1097.0V279.7H1098.0V285.5H1099.0V265.7H1100.0V269.4H1101.0V253.2H1102.0V246.7H1103.0V257.7H1104.0V232.1H1105.0V224.1H1106.0V220.7H1107.0V228.7H1108.0V248.2H1109.0V227.3H1110.0V227.6H1111.0V221.7H1112.0V223.0H1113.0V241.5H1114.0V224.5H1115.0V222.4H1116.0V237.3H1117.0V218.4H1118.0V214.4H1119.0V228.5H1120.0V209.0H1121.0V206.2H1122.0V209.1H1123.0V212.5H1124.0V230.8H1125.0V215.7H1126.0V231.5H1127.0V210.2H1128.0V213.5H1129.0V231.7H1130.0V217.1H1131.0V222.2H1132.0V243.8H1133.0V221.3H1134.0V241.8H1135.0V226.0H1136.0V228.3H1137.0V244.4H1138.0V227.6H1139.0V243.0H1140.0V225.3H1141.0V223.1H1142.0V232.4H1143.0V219.3H1144.0V218.1H1145.0V215.7H1146.0V219.9H1147.0V234.2H1148.0V227.4H1149.0V223.3H1150.0V222.0H1151.0V226.1H1152.0V236.5H1153.0V228.2H1154.0V227.6H1155.0V244.2H1156.0V224.8H1157.0V223.2H1158.0V238.7H1159.0V232.7H1160.0V243.9H1161.0V241.6H1162.0V246.3H1163.0V261.5H1164.0V260.3H1165.0V271.9H1166.0V265.7H1167.0V263.9H1168.0V263.2H1169.0V265.5H1170.0V265.7H1171.0V275.1H1172.0V267.2H1173.0V277.5H1174.0V265.9H1175.0V265.5H1176.0V278.1H1177.0V265.7H1178.0V276.0H1179.0V263.6H1180.0V261.7H1181.0V272.7H1182.0V258.8H1183.0V261.4H1184.0V267.7H1185.0V259.6H1186.0V274.5H1187.0V258.7H1188.0V256.9H1189.0V266.6H1190.0V252.9H1191.0V259.3H1192.0V250.1H1193.0V248.8H1194.0V266.0H1195.0V247.4H1196.0V250.2H1197.0V268.0H1198.0V249.3H1199.0V255.9H1200.0V246.5H1201.0V245.6H1202.0V257.9H1203.0V247.1H1204.0V261.3H1205.0V243.0H1206.0V244.9H1207.0V260.6H1208.0V245.7H1209.0V246.2H1210.0V259.7H1211.0V248.5H1212.0V256.0H1213.0V249.9H1214.0V253.8H1215.0V260.4H1216.0V255.1H1217.0V268.1H1218.0V257.3H1219.0V257.4H1220.0V270.7H1221.0V258.7H1222.0V262.2H1223.0V274.0H1224.0V259.2H1225.0V268.1H1226.0V263.9H1227.0V265.8H1228.0V278.3H1229.0V272.7H1230.0V287.4H1231.0V277.9H1232.0V278.1H1233.0V289.5H1234.0V287.7H1235.0V293.5H1236.0V299.8H1237.0V301.9H1238.0V305.6H1239.0V305.7H1240.0V306.5H1241.0V308.4H1242.0V307.8H1243.0V310.1H1244.0V307.9H1245.0V307.6H1246.0V310.0H1247.0V307.3H1248.0V307.1H1249.0V309.5H1250.0V308.4H1251.0V309.7H1252.0V309.4H1253.0V310.5H1254.0V312.8H1254.6V319.5V319.5H1254.0V321.8H1253.0V322.7H1252.0V322.2H1251.0V324.7H1250.0V324.5H1249.0V326.9H1248.0V327.5H1247.0V324.7H1246.0V326.6H1245.0V326.3H1244.0V325.4H1243.0V327.9H1242.0V325.4H1241.0V329.3H1240.0V330.6H1239.0V329.1H1238.0V334.2H1237.0V332.9H1236.0V341.0H1235.0V343.4H1234.0V348.0H1233.0V347.2H1232.0V347.3H1231.0V344.1H1230.0V349.4H1229.0V342.7H1228.0V360.3H1227.0V367.8H1226.0V365.7H1225.0V376.9H1224.0V373.3H1223.0V384.6H1222.0V387.8H1221.0V374.6H1220.0V390.1H1219.0V389.6H1218.0V376.7H1217.0V390.4H1216.0V383.5H1215.0V394.6H1214.0V394.2H1213.0V387.6H1212.0V397.7H1211.0V391.4H1210.0V405.5H1209.0V401.6H1208.0V385.1H1207.0V404.5H1206.0V401.6H1205.0V384.0H1204.0V403.5H1203.0V389.2H1202.0V401.1H1201.0V400.8H1200.0V389.7H1199.0V399.6H1198.0V381.0H1197.0V397.2H1196.0V396.2H1195.0V378.3H1194.0V396.2H1193.0V394.1H1192.0V376.9H1191.0V395.9H1190.0V375.6H1189.0V391.8H1188.0V393.4H1187.0V381.1H1186.0V391.0H1185.0V379.5H1184.0V390.6H1183.0V392.3H1182.0V393.2H1181.0V389.0H1180.0V387.8H1179.0V372.0H1178.0V389.1H1177.0V375.4H1176.0V388.3H1175.0V389.3H1174.0V392.2H1173.0V389.8H1172.0V374.0H1171.0V389.9H1170.0V390.2H1169.0V373.0H1168.0V393.2H1167.0V389.5H1166.0V378.3H1165.0V389.7H1164.0V372.1H1163.0V390.5H1162.0V393.0H1161.0V384.9H1160.0V393.9H1159.0V383.0H1158.0V400.6H1157.0V403.8H1156.0V391.7H1155.0V413.8H1154.0V411.2H1153.0V389.0H1152.0V404.4H1151.0V383.2H1150.0V401.2H1149.0V405.6H1148.0V407.6H1147.0V403.5H1146.0V386.2H1145.0V394.5H1144.0V399.0H1143.0V381.5H1142.0V399.0H1141.0V401.4H1140.0V387.8H1139.0V407.5H1138.0V399.2H1137.0V418.7H1136.0V428.1H1135.0V407.9H1134.0V425.8H1133.0V404.2H1132.0V421.8H1131.0V428.9H1130.0V411.8H1129.0V428.2H1128.0V431.3H1127.0V416.3H1126.0V435.2H1125.0V439.0H1124.0V433.9H1123.0V430.8H1122.0V413.2H1121.0V431.9H1120.0V416.7H1119.0V425.9H1118.0V422.4H1117.0V396.8H1116.0V413.2H1115.0V410.8H1114.0V389.2H1113.0V410.6H1112.0V402.7H1111.0V429.2H1110.0V423.8H1109.0V401.7H1108.0V416.3H1107.0V391.5H1106.0V406.1H1105.0V399.9H1104.0V374.4H1103.0V386.2H1102.0V379.2H1101.0V363.4H1100.0V368.1H1099.0V353.3H1098.0V354.5H1097.0V352.8H1096.0V344.6H1095.0V351.8H1094.0V345.8H1093.0V350.3H1092.0V348.8H1091.0V342.4H1090.0V344.2H1089.0V342.5H1088.0V334.8H1087.0V336.2H1086.0V322.4H1085.5Z" fill="#A2142F"/>
<path d="M1085.5 300.8H1086.0V301.8H1085.5ZM1085.5 322.4H1086.0V323.1H1085.5ZM1087.0 296.4H1088.0V301.8H1087.0ZM1087.0 334.8H1088.0V339.5H1087.0ZM1090.0 288.2H1091.0V295.2H1090.0ZM1090.0 342.4H1091.0V344.9H1090.0ZM1093.0 345.8H1094.0V349.1H1093.0ZM1095.0 287.7H1096.0V290.1H1095.0ZM1095.0 344.6H1096.0V349.1H1095.0ZM1098.0 277.2H1099.0V285.5H1098.0ZM1098.0 353.3H1099.0V359.0H1098.0ZM1100.0 261.1H1101.0V269.4H1100.0ZM1100.0 363.4H1101.0V370.4H1100.0ZM1103.0 242.7H1104.0V257.7H1103.0ZM1103.0 374.4H1104.0V389.4H1103.0ZM1106.0 391.5H1107.0V409.3H1106.0ZM1108.0 234.3H1109.0V248.2H1108.0ZM1108.0 401.7H1109.0V419.4H1108.0ZM1111.0 402.7H1112.0V420.0H1111.0ZM1113.0 226.5H1114.0V241.5H1113.0ZM1113.0 389.2H1114.0V404.2H1113.0ZM1116.0 222.3H1117.0V237.3H1116.0ZM1116.0 396.8H1117.0V411.8H1116.0ZM1119.0 210.7H1120.0V228.5H1119.0ZM1119.0 416.7H1120.0V426.7H1119.0ZM1121.0 413.2H1122.0V428.2H1121.0ZM1124.0 215.8H1125.0V230.8H1124.0ZM1126.0 214.1H1127.0V231.5H1126.0ZM1126.0 416.3H1127.0V431.3H1126.0ZM1129.0 216.7H1130.0V231.7H1129.0ZM1129.0 411.8H1130.0V426.8H1129.0ZM1132.0 225.0H1133.0V243.8H1132.0ZM1132.0 404.2H1133.0V419.2H1132.0ZM1134.0 226.2H1135.0V241.8H1134.0ZM1134.0 407.9H1135.0V422.9H1134.0ZM1137.0 229.4H1138.0V244.4H1137.0ZM1137.0 399.2H1138.0V410.9H1137.0ZM1139.0 225.6H1140.0V243.0H1139.0ZM1139.0 387.8H1140.0V405.7H1139.0ZM1142.0 222.9H1143.0V232.4H1142.0ZM1142.0 381.5H1143.0V396.5H1142.0ZM1145.0 386.2H1146.0V395.1H1145.0ZM1147.0 225.4H1148.0V234.2H1147.0ZM1150.0 383.2H1151.0V400.3H1150.0ZM1152.0 226.8H1153.0V236.5H1152.0ZM1152.0 389.0H1153.0V406.3H1152.0ZM1155.0 229.2H1156.0V244.2H1155.0ZM1155.0 391.7H1156.0V406.7H1155.0ZM1158.0 228.2H1159.0V238.7H1158.0ZM1158.0 383.0H1159.0V395.6H1158.0ZM1160.0 237.2H1161.0V243.9H1160.0ZM1160.0 384.9H1161.0V390.6H1160.0ZM1163.0 255.9H1164.0V261.5H1163.0ZM1163.0 372.1H1164.0V387.6H1163.0ZM1165.0 267.8H1166.0V271.9H1165.0ZM1165.0 378.3H1166.0V387.0H1165.0ZM1168.0 373.0H1169.0V389.4H1168.0ZM1171.0 267.3H1172.0V275.1H1171.0ZM1171.0 374.0H1172.0V388.6H1171.0ZM1173.0 270.3H1174.0V277.5H1173.0ZM1176.0 265.7H1177.0V278.1H1176.0ZM1176.0 375.4H1177.0V385.5H1176.0ZM1178.0 264.7H1179.0V276.0H1178.0ZM1178.0 372.0H1179.0V385.5H1178.0ZM1181.0 264.6H1182.0V272.7H1181.0ZM1184.0 264.0H1185.0V267.7H1184.0ZM1184.0 379.5H1185.0V389.5H1184.0ZM1186.0 258.1H1187.0V274.5H1186.0ZM1186.0 381.1H1187.0V391.8H1186.0ZM1189.0 255.8H1190.0V266.6H1189.0ZM1189.0 375.6H1190.0V393.2H1189.0ZM1191.0 252.8H1192.0V259.3H1191.0ZM1191.0 376.9H1192.0V395.5H1191.0ZM1194.0 252.5H1195.0V266.0H1194.0ZM1194.0 378.3H1195.0V394.1H1194.0ZM1197.0 251.9H1198.0V268.0H1197.0ZM1197.0 381.0H1198.0V396.0H1197.0ZM1199.0 250.5H1200.0V255.9H1199.0ZM1199.0 389.7H1200.0V400.4H1199.0ZM1202.0 245.5H1203.0V257.9H1202.0ZM1202.0 389.2H1203.0V398.4H1202.0ZM1204.0 245.2H1205.0V261.3H1204.0ZM1204.0 384.0H1205.0V399.0H1204.0ZM1207.0 248.4H1208.0V260.6H1207.0ZM1207.0 385.1H1208.0V400.1H1207.0ZM1210.0 251.4H1211.0V259.7H1210.0ZM1210.0 391.4H1211.0V398.5H1210.0ZM1212.0 252.5H1213.0V256.0H1212.0ZM1212.0 387.6H1213.0V394.6H1212.0ZM1215.0 254.9H1216.0V260.4H1215.0ZM1215.0 383.5H1216.0V392.8H1215.0ZM1217.0 259.7H1218.0V268.1H1217.0ZM1217.0 376.7H1218.0V388.1H1217.0ZM1220.0 262.4H1221.0V270.7H1220.0ZM1220.0 374.6H1221.0V387.4H1220.0ZM1223.0 261.5H1224.0V274.0H1223.0ZM1223.0 373.3H1224.0V381.1H1223.0ZM1225.0 261.7H1226.0V268.1H1225.0ZM1225.0 365.7H1226.0V368.1H1225.0ZM1228.0 269.5H1229.0V278.3H1228.0ZM1228.0 342.7H1229.0V351.9H1228.0ZM1230.0 275.7H1231.0V287.4H1230.0ZM1230.0 344.1H1231.0V345.1H1230.0ZM1233.0 283.6H1234.0V289.5H1233.0ZM1236.0 297.8H1237.0V299.8H1236.0ZM1236.0 332.9H1237.0V336.5H1236.0ZM1238.0 304.4H1239.0V305.6H1238.0ZM1238.0 329.1H1239.0V331.4H1238.0ZM1241.0 307.8H1242.0V308.4H1241.0ZM1241.0 325.4H1242.0V327.9H1241.0ZM1243.0 308.4H1244.0V310.1H1243.0ZM1243.0 325.4H1244.0V326.6H1243.0ZM1246.0 308.0H1247.0V310.0H1246.0ZM1246.0 324.7H1247.0V327.0H1246.0ZM1249.0 308.4H1250.0V309.5H1249.0ZM1249.0 324.5H1250.0V325.3H1249.0ZM1251.0 309.2H1252.0V309.7H1251.0ZM1251.0 322.2H1252.0V323.8H1251.0Z" fill="#A2142F" fill-opacity="0.5"/>
<path d="M1263.0 317.0V309.2H1264.0V308.3H1265.0V310.4H1266.0V305.5H1267.0V306.6H1268.0V300.3H1269.0V299.5H1270.0V299.8H1271.0V293.9H1272.0V290.3H1273.0V281.2H1274.0V273.1H1275.0V268.4H1276.0V271.0H1277.0V271.8H1278.0V280.3H1279.0V271.0H1280.0V279.7H1281.0V256.3H1282.0V250.9H1283.0V260.7H1284.0V240.0H1285.0V253.5H1286.0V236.7H1287.0V239.7H1288.0V260.2H1289.0V260.2H1290.0V269.3H1291.0V285.4H1292.0V268.4H1293.0V284.2H1294.0V282.2H1295.0V288.5H1296.0V291.0H1297.0V278.1H1298.0V288.3H1299.0V293.3H1300.0V299.6H1301.0V304.7H1302.0V305.1H1303.0V307.1H1304.0V305.0H1305.0V297.6H1306.0V292.4H1307.0V270.7H1308.0V260.2H1309.0V263.7H1310.0V236.9H1311.0V248.1H1312.0V227.4H1313.0V224.8H1314.0V219.7H1315.0V222.0H1316.0V224.9H1317.0V241.3H1318.0V220.5H1319.0V233.6H1320.0V213.6H1321.0V217.6H1322.0V228.0H1323.0V209.9H1324.0V224.4H1325.0V205.0H1326.0V204.8H1327.0V217.7H1328.0V191.3H1329.0V184.3H1330.0V205.5H1331.0V188.1H1332.0V210.4H1333.0V188.3H1334.0V188.0H1335.0V210.7H1336.0V191.1H1337.0V204.3H1338.0V179.4H1339.0V171.0H1340.0V193.8H1341.0V188.2H1342.0V190.0H1343.0V209.9H1344.0V191.5H1345.0V189.2H1346.0V202.2H1347.0V212.6H1348.0V238.6H1349.0V215.8H1350.0V224.8H1351.0V203.3H1352.0V223.7H1353.0V245.5H1354.0V225.8H1355.0V223.6H1356.0V218.0H1357.0V222.0H1358.0V242.1H1359.0V227.9H1360.0V231.0H1361.0V241.2H1362.0V225.7H1363.0V242.4H1364.0V231.4H1365.0V232.0H1366.0V243.3H1367.0V219.7H1368.0V221.0H1369.0V235.9H1370.0V221.8H1371.0V238.6H1372.0V216.3H1373.0V217.1H1374.0V211.1H1375.0V214.9H1376.0V233.2H1377.0V219.3H1378.0V225.1H1379.0V251.9H1380.0V245.8H1381.0V257.6H1382.0V272.9H1383.0V277.0H1384.0V294.3H1385.0V293.2H1386.0V301.7H1386.5V323.0V323.0H1386.0V328.3H1385.0V336.9H1384.0V336.9H1383.0V348.6H1382.0V354.2H1381.0V353.9H1380.0V382.4H1379.0V372.9H1378.0V399.4H1377.0V403.7H1376.0V392.9H1375.0V421.1H1374.0V422.4H1373.0V411.7H1372.0V425.5H1371.0V428.7H1370.0V427.1H1369.0V424.9H1368.0V408.7H1367.0V428.7H1366.0V409.6H1365.0V423.6H1364.0V422.2H1363.0V411.0H1362.0V436.1H1361.0V434.0H1360.0V419.8H1359.0V431.0H1358.0V427.1H1357.0V447.3H1356.0V452.4H1355.0V428.9H1354.0V442.2H1353.0V424.7H1352.0V448.4H1351.0V453.9H1350.0V433.9H1349.0V448.1H1348.0V450.0H1347.0V442.2H1346.0V467.3H1345.0V442.3H1344.0V446.9H1343.0V455.2H1342.0V447.3H1341.0V469.8H1340.0V455.4H1339.0V475.3H1338.0V482.7H1337.0V466.9H1336.0V482.3H1335.0V490.7H1334.0V495.5H1333.0V489.4H1332.0V464.8H1331.0V472.3H1330.0V472.4H1329.0V454.1H1328.0V474.4H1327.0V477.7H1326.0V476.0H1325.0V465.8H1324.0V445.7H1323.0V459.5H1322.0V459.3H1321.0V438.0H1320.0V450.3H1319.0V432.4H1318.0V445.6H1317.0V441.9H1316.0V422.6H1315.0V438.6H1314.0V416.0H1313.0V422.8H1312.0V416.7H1311.0V381.3H1310.0V384.5H1309.0V366.4H1308.0V342.3H1307.0V337.2H1306.0V324.6H1305.0V327.0H1304.0V327.4H1303.0V326.1H1302.0V330.5H1301.0V330.7H1300.0V334.7H1299.0V336.2H1298.0V335.6H1297.0V340.0H1296.0V343.0H1295.0V344.3H1294.0V363.2H1293.0V357.0H1292.0V366.6H1291.0V366.7H1290.0V355.7H1289.0V370.4H1288.0V368.7H1287.0V377.2H1286.0V380.5H1285.0V375.5H1284.0V395.6H1283.0V410.9H1282.0V395.5H1281.0V394.3H1280.0V377.9H1279.0V378.5H1278.0V370.6H1277.0V354.8H1276.0V362.6H1275.0V347.6H1274.0V356.6H1273.0V353.9H1272.0V344.9H1271.0V342.3H1270.0V338.2H1269.0V330.8H1268.0V332.3H1267.0V328.0H1266.0V327.5H1265.0V325.7H1264.0V321.2H1263.0Z" fill="#FF00FF"/>
<path d="M1263.0 321.2H1264.0V322.0H1263.0ZM1265.0 307.8H1266.0V310.4H1265.0ZM1266.0 328.0H1267.0V328.7H1266.0ZM1267.0 302.9H1268.0V306.6H1267.0ZM1268.0 330.8H1269.0V335.1H1268.0ZM1270.0 298.9H1271.0V299.8H1270.0ZM1271.0 344.9H1272.0V348.4H1271.0ZM1272.0 288.2H1273.0V290.3H1272.0ZM1274.0 347.6H1275.0V357.4H1274.0ZM1276.0 354.8H1277.0V363.8H1276.0ZM1278.0 272.6H1279.0V280.3H1278.0ZM1279.0 377.9H1280.0V382.0H1279.0ZM1280.0 270.4H1281.0V279.7H1280.0ZM1281.0 395.5H1282.0V402.8H1281.0ZM1283.0 245.3H1284.0V260.7H1283.0ZM1284.0 375.5H1285.0V379.9H1284.0ZM1285.0 239.6H1286.0V253.5H1285.0ZM1287.0 368.7H1288.0V371.0H1287.0ZM1288.0 253.1H1289.0V260.2H1288.0ZM1289.0 355.7H1290.0V369.3H1289.0ZM1291.0 274.6H1292.0V285.4H1291.0ZM1292.0 357.0H1293.0V363.5H1292.0ZM1293.0 275.7H1294.0V284.2H1293.0ZM1294.0 344.3H1295.0V352.6H1294.0ZM1296.0 287.0H1297.0V291.0H1296.0ZM1297.0 335.6H1298.0V337.7H1297.0ZM1298.0 281.3H1299.0V288.3H1298.0ZM1300.0 330.7H1301.0V332.4H1300.0ZM1301.0 303.8H1302.0V304.7H1301.0ZM1302.0 326.1H1303.0V328.3H1302.0ZM1304.0 303.2H1305.0V305.0H1304.0ZM1305.0 324.6H1306.0V327.4H1305.0ZM1306.0 285.8H1307.0V292.4H1306.0ZM1307.0 342.3H1308.0V347.1H1307.0ZM1309.0 247.8H1310.0V263.7H1309.0ZM1310.0 381.3H1311.0V396.6H1310.0ZM1311.0 232.0H1312.0V248.1H1311.0ZM1313.0 416.0H1314.0V429.9H1313.0ZM1315.0 422.6H1316.0V440.3H1315.0ZM1317.0 222.7H1318.0V241.3H1317.0ZM1318.0 432.4H1319.0V449.1H1318.0ZM1319.0 218.6H1320.0V233.6H1319.0ZM1320.0 438.0H1321.0V454.4H1320.0ZM1322.0 217.9H1323.0V228.0H1322.0ZM1323.0 445.7H1324.0V461.5H1323.0ZM1324.0 207.5H1325.0V224.4H1324.0ZM1327.0 202.7H1328.0V217.7H1327.0ZM1328.0 454.1H1329.0V471.6H1328.0ZM1330.0 190.5H1331.0V205.5H1330.0ZM1331.0 464.8H1332.0V479.8H1331.0ZM1332.0 195.1H1333.0V210.4H1332.0ZM1335.0 195.1H1336.0V210.7H1335.0ZM1336.0 466.9H1337.0V481.9H1336.0ZM1337.0 190.1H1338.0V204.3H1337.0ZM1339.0 455.4H1340.0V470.4H1339.0ZM1340.0 178.8H1341.0V193.8H1340.0ZM1341.0 447.3H1342.0V462.8H1341.0ZM1343.0 194.9H1344.0V209.9H1343.0ZM1344.0 442.3H1345.0V460.1H1344.0ZM1346.0 442.2H1347.0V459.0H1346.0ZM1348.0 220.8H1349.0V238.6H1348.0ZM1349.0 433.9H1350.0V448.9H1349.0ZM1350.0 209.8H1351.0V224.8H1350.0ZM1352.0 424.7H1353.0V440.5H1352.0ZM1353.0 230.5H1354.0V245.5H1353.0ZM1354.0 428.9H1355.0V443.9H1354.0ZM1357.0 427.1H1358.0V438.6H1357.0ZM1358.0 227.1H1359.0V242.1H1358.0ZM1359.0 419.8H1360.0V429.9H1359.0ZM1361.0 230.5H1362.0V241.2H1361.0ZM1362.0 411.0H1363.0V429.3H1362.0ZM1363.0 235.3H1364.0V242.4H1363.0ZM1365.0 409.6H1366.0V423.1H1365.0ZM1366.0 228.0H1367.0V243.3H1366.0ZM1367.0 408.7H1368.0V424.8H1367.0ZM1369.0 223.7H1370.0V235.9H1369.0ZM1371.0 223.6H1372.0V238.6H1371.0ZM1372.0 411.7H1373.0V422.4H1372.0ZM1375.0 392.9H1376.0V407.9H1375.0ZM1376.0 216.7H1377.0V233.2H1376.0ZM1378.0 372.9H1379.0V390.2H1378.0ZM1379.0 236.9H1380.0V251.9H1379.0ZM1380.0 353.9H1381.0V366.6H1380.0ZM1382.0 267.6H1383.0V272.9H1382.0ZM1383.0 336.9H1384.0V343.4H1383.0ZM1384.0 287.1H1385.0V294.3H1384.0ZM1385.0 328.3H1386.0V330.6H1385.0Z" fill="#FF00FF" fill-opacity="0.5"/>
<path d="M1395.3 317.0V290.3H1396.0V287.0H1397.0V275.7H1398.0V272.5H1399.0V278.0H1400.0V263.6H1401.0V271.1H1402.0V267.9H1403.0V271.2H1404.0V280.1H1405.0V278.3H1406.0V284.6H1407.0V280.0H1408.0V280.4H1409.0V288.6H1410.0V279.0H1411.0V276.9H1412.0V284.1H1413.0V276.0H1414.0V274.0H1415.0V274.6H1416.0V275.1H1417.0V283.7H1418.0V275.6H1419.0V280.7H1420.0V276.2H1421.0V276.4H1422.0V280.9H1423.0V274.7H1424.0V274.5H1425.0V282.4H1426.0V269.5H1427.0V280.0H1428.0V260.9H1429.0V260.1H1430.0V268.9H1431.0V252.9H1432.0V258.0H1433.0V249.8H1434.0V246.0H1435.0V258.4H1436.0V249.9H1437.0V252.3H1438.0V266.8H1439.0V261.7H1440.0V273.1H1441.0V260.4H1442.0V259.5H1443.0V275.1H1444.0V258.9H1445.0V271.9H1446.0V256.4H1447.0V256.7H1448.0V270.3H1449.0V253.5H1450.0V250.4H1451.0V249.4H1452.0V250.9H1453.0V264.5H1454.0V253.2H1455.0V250.8H1456.0V249.4H1457.0V252.6H1458.0V249.4H1459.0V252.5H1460.0V251.8H1461.0V266.5H1462.0V254.4H1463.0V255.1H1464.0V270.4H1465.0V254.6H1466.0V262.9H1467.0V253.3H1468.0V254.2H1469.0V265.9H1470.0V256.6H1471.0V269.4H1472.0V256.8H1473.0V259.5H1474.0V276.6H1475.0V261.3H1476.0V260.3H1477.0V270.5H1478.0V262.2H1479.0V267.7H1480.0V263.6H1481.0V262.3H1482.0V275.4H1483.0V260.3H1484.0V276.9H1485.0V260.9H1486.0V258.5H1487.0V264.4H1488.0V256.1H1489.0V257.0H1490.0V262.3H1491.0V253.3H1492.0V269.4H1493.0V255.3H1494.0V251.6H1495.0V246.8H1496.0V249.1H1497.0V266.6H1498.0V258.6H1499.0V258.2H1500.0V276.8H1501.0V261.5H1502.0V261.4H1503.0V275.0H1504.0V263.7H1505.0V269.5H1506.0V264.8H1507.0V264.6H1508.0V276.1H1509.0V267.1H1510.0V281.6H1511.0V269.2H1512.0V270.5H1513.0V280.9H1514.0V275.7H1515.0V277.6H1516.0V290.0H1517.0V277.2H1518.0V281.9H1519.0V271.3H1520.0V270.1H1521.0V284.6H1522.0V287.4H1522.6V345.7V345.7H1522.0V352.4H1521.0V354.8H1520.0V356.7H1519.0V354.8H1518.0V345.9H1517.0V355.1H1516.0V353.7H1515.0V343.4H1514.0V355.3H1513.0V351.6H1512.0V357.1H1511.0V356.9H1510.0V353.7H1509.0V358.8H1508.0V359.2H1507.0V354.4H1506.0V360.7H1505.0V354.9H1504.0V367.7H1503.0V372.3H1502.0V357.5H1501.0V376.4H1500.0V371.1H1499.0V382.3H1498.0V382.0H1497.0V366.7H1496.0V380.8H1495.0V383.9H1494.0V365.0H1493.0V381.4H1492.0V366.9H1491.0V378.8H1490.0V379.6H1489.0V368.3H1488.0V381.3H1487.0V362.1H1486.0V379.3H1485.0V378.1H1484.0V381.3H1483.0V379.6H1482.0V378.9H1481.0V362.8H1480.0V378.6H1479.0V365.8H1478.0V377.0H1477.0V377.7H1476.0V361.7H1475.0V379.0H1474.0V361.3H1473.0V381.9H1472.0V381.5H1471.0V367.6H1470.0V382.7H1469.0V383.8H1468.0V368.0H1467.0V384.7H1466.0V368.4H1465.0V385.3H1464.0V387.8H1463.0V370.0H1462.0V385.6H1461.0V374.2H1460.0V384.0H1459.0V385.4H1458.0V366.5H1457.0V386.5H1456.0V386.0H1455.0V368.8H1454.0V382.6H1453.0V367.6H1452.0V387.1H1451.0V392.4H1450.0V372.9H1449.0V387.8H1448.0V369.7H1447.0V386.6H1446.0V387.8H1445.0V369.7H1444.0V383.9H1443.0V383.5H1442.0V370.8H1441.0V381.6H1440.0V375.2H1439.0V386.5H1438.0V383.8H1437.0V366.0H1436.0V383.8H1435.0V364.4H1434.0V379.4H1433.0V377.8H1432.0V360.1H1431.0V373.5H1430.0V370.8H1429.0V361.0H1428.0V364.8H1427.0V352.1H1426.0V361.8H1425.0V360.6H1424.0V350.5H1423.0V359.6H1422.0V348.8H1421.0V360.8H1420.0V361.9H1419.0V350.2H1418.0V359.4H1417.0V360.0H1416.0V351.7H1415.0V359.7H1414.0V351.2H1413.0V359.2H1412.0V357.7H1411.0V354.8H1410.0V358.7H1409.0V350.5H1408.0V361.3H1407.0V362.9H1406.0V355.0H1405.0V365.1H1404.0V368.7H1403.0V362.5H1402.0V373.6H1401.0V357.6H1400.0V365.7H1399.0V364.5H1398.0V353.3H1397.0V357.3H1396.0V344.1H1395.3Z" fill="#000000"/>
<path d="M1395.3 344.1H1396.0V349.9H1395.3ZM1396.0 280.2H1397.0V287.0H1396.0ZM1397.0 353.3H1398.0V361.2H1397.0ZM1399.0 267.7H1400.0V278.0H1399.0ZM1400.0 357.6H1401.0V369.7H1400.0ZM1401.0 266.1H1402.0V271.1H1401.0ZM1402.0 362.5H1403.0V371.0H1402.0ZM1404.0 276.3H1405.0V280.1H1404.0ZM1405.0 355.0H1406.0V360.2H1405.0ZM1406.0 280.1H1407.0V284.6H1406.0ZM1408.0 350.5H1409.0V359.5H1408.0ZM1409.0 279.9H1410.0V288.6H1409.0ZM1410.0 354.8H1411.0V356.5H1410.0ZM1412.0 276.8H1413.0V284.1H1412.0ZM1413.0 351.2H1414.0V358.4H1413.0ZM1415.0 351.7H1416.0V357.2H1415.0ZM1417.0 275.2H1418.0V283.7H1417.0ZM1418.0 350.2H1419.0V360.1H1418.0ZM1419.0 278.4H1420.0V280.7H1419.0ZM1421.0 348.8H1422.0V359.6H1421.0ZM1422.0 276.7H1423.0V280.9H1422.0ZM1423.0 350.5H1424.0V357.1H1423.0ZM1425.0 273.4H1426.0V282.4H1425.0ZM1426.0 352.1H1427.0V362.3H1426.0ZM1427.0 267.7H1428.0V280.0H1427.0ZM1428.0 361.0H1429.0V365.6H1428.0ZM1430.0 260.9H1431.0V268.9H1430.0ZM1431.0 360.1H1432.0V373.4H1431.0ZM1432.0 249.1H1433.0V258.0H1432.0ZM1434.0 364.4H1435.0V382.4H1434.0ZM1435.0 251.3H1436.0V258.4H1435.0ZM1436.0 366.0H1437.0V384.2H1436.0ZM1438.0 258.1H1439.0V266.8H1438.0ZM1439.0 375.2H1440.0V380.0H1439.0ZM1440.0 264.4H1441.0V273.1H1440.0ZM1441.0 370.8H1442.0V381.6H1441.0ZM1443.0 261.7H1444.0V275.1H1443.0ZM1444.0 369.7H1445.0V383.1H1444.0ZM1445.0 259.6H1446.0V271.9H1445.0ZM1447.0 369.7H1448.0V384.6H1447.0ZM1448.0 253.7H1449.0V270.3H1448.0ZM1449.0 372.9H1450.0V386.2H1449.0ZM1452.0 367.6H1453.0V385.9H1452.0ZM1453.0 253.6H1454.0V264.5H1453.0ZM1454.0 368.8H1455.0V385.3H1454.0ZM1457.0 366.5H1458.0V381.5H1457.0ZM1460.0 374.2H1461.0V381.9H1460.0ZM1461.0 256.5H1462.0V266.5H1461.0ZM1462.0 370.0H1463.0V382.5H1462.0ZM1464.0 258.3H1465.0V270.4H1464.0ZM1465.0 368.4H1466.0V382.1H1465.0ZM1466.0 257.0H1467.0V262.9H1466.0ZM1467.0 368.0H1468.0V384.3H1467.0ZM1469.0 256.5H1470.0V265.9H1469.0ZM1470.0 367.6H1471.0V380.1H1470.0ZM1471.0 258.7H1472.0V269.4H1471.0ZM1473.0 361.3H1474.0V376.6H1473.0ZM1474.0 259.9H1475.0V276.6H1474.0ZM1475.0 361.7H1476.0V377.9H1475.0ZM1477.0 262.1H1478.0V270.5H1477.0ZM1478.0 365.8H1479.0V377.4H1478.0ZM1479.0 261.8H1480.0V267.7H1479.0ZM1480.0 362.8H1481.0V379.0H1480.0ZM1482.0 262.3H1483.0V275.4H1482.0ZM1484.0 260.0H1485.0V276.9H1484.0ZM1486.0 362.1H1487.0V378.1H1486.0ZM1487.0 260.1H1488.0V264.4H1487.0ZM1488.0 368.3H1489.0V378.2H1488.0ZM1490.0 255.9H1491.0V262.3H1490.0ZM1491.0 366.9H1492.0V378.6H1491.0ZM1492.0 256.4H1493.0V269.4H1492.0ZM1493.0 365.0H1494.0V380.6H1493.0ZM1496.0 366.7H1497.0V382.6H1496.0ZM1497.0 258.4H1498.0V266.6H1497.0ZM1499.0 371.1H1500.0V377.0H1499.0ZM1500.0 260.1H1501.0V276.8H1500.0ZM1501.0 357.5H1502.0V371.1H1501.0ZM1503.0 265.0H1504.0V275.0H1503.0ZM1504.0 354.9H1505.0V361.9H1504.0ZM1505.0 267.3H1506.0V269.5H1505.0ZM1506.0 354.4H1507.0V357.9H1506.0ZM1508.0 265.2H1509.0V276.1H1508.0ZM1509.0 353.7H1510.0V357.8H1509.0ZM1510.0 270.1H1511.0V281.6H1510.0ZM1512.0 351.6H1513.0V354.9H1512.0ZM1513.0 275.1H1514.0V280.9H1513.0ZM1514.0 343.4H1515.0V353.1H1514.0ZM1516.0 281.6H1517.0V290.0H1516.0ZM1517.0 345.9H1518.0V352.4H1517.0ZM1518.0 273.8H1519.0V281.9H1518.0ZM1521.0 280.0H1522.0V284.6H1521.0ZM1522.0 345.7H1522.6V348.6H1522.0Z" fill="#000000" fill-opacity="0.5"/>
<path d="M1531.0 317.0V284.9H1532.0V285.4H1533.0V268.1H1534.0V251.3H1535.0V271.2H1536.0V266.2H1537.0V281.9H1538.0V261.2H1539.0V262.0H1540.0V281.9H1541.0V266.8H1542.0V255.0H1543.0V242.4H1544.0V245.6H1545.0V258.6H1546.0V243.6H1547.0V240.3H1548.0V254.7H1549.0V231.4H1550.0V224.6H1551.0V234.5H1552.0V252.1H1553.0V260.4H1554.0V246.4H1555.0V251.0H1556.0V265.7H1557.0V253.9H1558.0V249.4H1559.0V237.5H1560.0V238.5H1561.0V236.3H1562.0V214.0H1563.0V216.7H1564.0V200.9H1565.0V211.5H1566.0V244.8H1567.0V245.7H1568.0V245.3H1569.0V251.3H1570.0V239.5H1571.0V259.6H1572.0V247.4H1573.0V252.6H1574.0V274.7H1575.0V257.8H1576.0V276.5H1577.0V258.3H1578.0V258.7H1579.0V258.3H1580.0V263.5H1581.0V268.7H1582.0V282.8H1583.0V284.5H1584.0V296.9H1585.0V297.6H1586.0V292.0H1587.0V290.8H1588.0V268.1H1589.0V269.4H1590.0V256.3H1591.0V257.7H1592.0V267.1H1593.0V236.5H1594.0V238.8H1595.0V253.3H1596.0V246.0H1597.0V254.5H1598.0V243.3H1599.0V243.1H1600.0V252.4H1601.0V240.5H1602.0V233.5H1603.0V237.5H1604.0V248.8H1605.0V266.6H1606.0V262.4H1607.0V265.5H1608.0V270.3H1609.0V259.9H1610.0V256.3H1611.0V256.8H1612.0V260.2H1613.0V276.0H1614.0V258.3H1615.0V254.3H1616.0V256.5H1617.0V258.0H1618.0V271.9H1619.0V254.8H1620.0V250.4H1621.0V262.3H1622.0V255.2H1623.0V263.4H1624.0V249.2H1625.0V244.3H1626.0V255.3H1627.0V238.9H1628.0V255.1H1629.0V232.2H1630.0V227.2H1631.0V232.6H1632.0V215.1H1633.0V213.5H1634.0V232.4H1635.0V212.2H1636.0V229.8H1637.0V223.3H1638.0V224.4H1639.0V242.3H1640.0V232.4H1641.0V250.7H1642.0V234.1H1643.0V235.5H1644.0V250.2H1645.0V238.8H1646.0V242.3H1647.0V247.3H1648.0V231.0H1649.0V227.6H1650.0V230.3H1651.0V233.2H1652.0V245.2H1653.0V236.2H1654.0V253.5H1655.0V234.4H1656.0V231.7H1657.0V225.6H1658.0V237.0H1659.0V260.6H1660.0V272.5H1661.0V257.1H1662.0V254.3H1663.0V280.2H1664.0V290.8H1665.0V293.3H1666.0V288.0H1667.0V297.9H1668.0V292.9H1669.0V289.9H1670.0V286.0H1671.0V287.6H1672.0V293.8H1673.0V303.2H1674.0V304.6H1675.0V310.0H1676.0V309.0H1677.0V308.2H1678.0V307.8H1679.0V309.1H1680.0V310.0H1681.0V303.8H1682.0V301.8H1682.9V321.3V321.3H1682.0V324.8H1681.0V322.4H1680.0V324.0H1679.0V323.7H1678.0V322.5H1677.0V324.3H1676.0V324.5H1675.0V330.3H1674.0V333.2H1673.0V331.7H1672.0V337.9H1671.0V339.7H1670.0V338.6H1669.0V339.2H1668.0V335.6H1667.0V340.1H1666.0V341.2H1665.0V336.3H1664.0V348.9H1663.0V342.8H1662.0V352.6H1661.0V354.0H1660.0V350.6H1659.0V383.2H1658.0V363.6H1657.0V378.3H1656.0V377.1H1655.0V360.5H1654.0V377.4H1653.0V382.0H1652.0V384.2H1651.0V380.5H1650.0V365.2H1649.0V377.0H1648.0V379.3H1647.0V383.2H1646.0V382.3H1645.0V370.1H1644.0V380.2H1643.0V377.1H1642.0V364.7H1641.0V375.2H1640.0V377.0H1639.0V363.7H1638.0V379.7H1637.0V368.0H1636.0V384.3H1635.0V388.3H1634.0V382.9H1633.0V396.1H1632.0V377.5H1631.0V384.6H1630.0V382.3H1629.0V371.2H1628.0V386.1H1627.0V390.2H1626.0V372.1H1625.0V393.1H1624.0V383.0H1623.0V391.0H1622.0V394.9H1621.0V379.2H1620.0V401.0H1619.0V387.3H1618.0V393.7H1617.0V386.7H1616.0V371.6H1615.0V379.4H1614.0V379.0H1613.0V383.2H1612.0V379.7H1611.0V365.4H1610.0V375.8H1609.0V378.7H1608.0V366.5H1607.0V383.1H1606.0V386.2H1605.0V383.0H1604.0V382.8H1603.0V366.4H1602.0V385.5H1601.0V396.1H1600.0V407.0H1599.0V406.6H1598.0V387.4H1597.0V402.9H1596.0V402.7H1595.0V389.6H1594.0V409.9H1593.0V378.6H1592.0V382.7H1591.0V373.2H1590.0V362.9H1589.0V361.1H1588.0V340.5H1587.0V330.7H1586.0V335.7H1585.0V334.0H1584.0V349.0H1583.0V356.6H1582.0V353.5H1581.0V363.6H1580.0V362.2H1579.0V373.3H1578.0V372.5H1577.0V357.3H1576.0V371.5H1575.0V372.7H1574.0V357.9H1573.0V383.4H1572.0V373.3H1571.0V394.1H1570.0V386.5H1569.0V364.9H1568.0V374.6H1567.0V367.5H1566.0V403.7H1565.0V409.0H1564.0V395.3H1563.0V413.9H1562.0V410.5H1561.0V385.7H1560.0V397.8H1559.0V370.8H1558.0V381.1H1557.0V388.3H1556.0V390.2H1555.0V386.6H1554.0V367.6H1553.0V384.5H1552.0V383.8H1551.0V375.9H1550.0V397.1H1549.0V394.5H1548.0V367.2H1547.0V398.3H1546.0V413.9H1545.0V404.9H1544.0V387.1H1543.0V358.3H1542.0V371.4H1541.0V355.0H1540.0V360.3H1539.0V361.9H1538.0V350.2H1537.0V366.9H1536.0V367.9H1535.0V356.3H1534.0V374.3H1533.0V356.0H1532.0V351.8H1531.0Z" fill="#008000"/>
<path d="M1532.0 281.5H1533.0V285.4H1532.0ZM1532.0 356.0H1533.0V362.6H1532.0ZM1534.0 356.3H1535.0V372.5H1534.0ZM1535.0 257.4H1536.0V271.2H1535.0ZM1537.0 274.9H1538.0V281.9H1537.0ZM1537.0 350.2H1538.0V364.1H1537.0ZM1540.0 270.8H1541.0V281.9H1540.0ZM1540.0 355.0H1541.0V365.1H1540.0ZM1542.0 358.3H1543.0V371.8H1542.0ZM1545.0 247.1H1546.0V258.6H1545.0ZM1547.0 367.2H1548.0V381.9H1547.0ZM1548.0 236.4H1549.0V254.7H1548.0ZM1550.0 375.9H1551.0V390.6H1550.0ZM1553.0 249.3H1554.0V260.4H1553.0ZM1553.0 367.6H1554.0V382.6H1553.0ZM1556.0 257.9H1557.0V265.7H1556.0ZM1558.0 240.0H1559.0V249.4H1558.0ZM1558.0 370.8H1559.0V389.9H1558.0ZM1560.0 385.7H1561.0V401.6H1560.0ZM1561.0 226.2H1562.0V236.3H1561.0ZM1563.0 205.8H1564.0V216.7H1563.0ZM1563.0 395.3H1564.0V412.3H1563.0ZM1566.0 227.6H1567.0V244.8H1566.0ZM1566.0 367.5H1567.0V384.5H1566.0ZM1568.0 364.9H1569.0V379.8H1568.0ZM1569.0 240.8H1570.0V251.3H1569.0ZM1571.0 243.6H1572.0V259.6H1571.0ZM1571.0 373.3H1572.0V391.5H1571.0ZM1573.0 357.9H1574.0V372.1H1573.0ZM1574.0 259.2H1575.0V274.7H1574.0ZM1576.0 260.6H1577.0V276.5H1576.0ZM1576.0 357.3H1577.0V369.4H1576.0ZM1579.0 362.2H1580.0V365.9H1579.0ZM1581.0 353.5H1582.0V358.5H1581.0ZM1582.0 278.7H1583.0V282.8H1582.0ZM1584.0 294.1H1585.0V296.9H1584.0ZM1584.0 334.0H1585.0V340.2H1584.0ZM1586.0 330.7H1587.0V333.6H1586.0ZM1587.0 282.6H1588.0V290.8H1587.0ZM1589.0 261.7H1590.0V269.4H1589.0ZM1589.0 362.9H1590.0V367.3H1589.0ZM1592.0 253.2H1593.0V267.1H1592.0ZM1592.0 378.6H1593.0V393.6H1592.0ZM1594.0 389.6H1595.0V405.4H1594.0ZM1595.0 246.7H1596.0V253.3H1595.0ZM1597.0 247.7H1598.0V254.5H1597.0ZM1597.0 387.4H1598.0V403.4H1597.0ZM1600.0 243.0H1601.0V252.4H1600.0ZM1602.0 366.4H1603.0V381.3H1602.0ZM1605.0 256.5H1606.0V266.6H1605.0ZM1607.0 366.5H1608.0V377.7H1607.0ZM1608.0 265.0H1609.0V270.3H1608.0ZM1610.0 365.4H1611.0V375.2H1610.0ZM1613.0 260.4H1614.0V276.0H1613.0ZM1615.0 371.6H1616.0V383.1H1615.0ZM1618.0 259.6H1619.0V271.9H1618.0ZM1618.0 387.3H1619.0V394.4H1618.0ZM1620.0 379.2H1621.0V397.5H1620.0ZM1621.0 256.1H1622.0V262.3H1621.0ZM1623.0 255.1H1624.0V263.4H1623.0ZM1623.0 383.0H1624.0V388.1H1623.0ZM1625.0 372.1H1626.0V387.1H1625.0ZM1626.0 245.2H1627.0V255.3H1626.0ZM1628.0 238.9H1629.0V255.1H1628.0ZM1628.0 371.2H1629.0V382.0H1628.0ZM1631.0 220.8H1632.0V232.6H1631.0ZM1631.0 377.5H1632.0V387.2H1631.0ZM1633.0 382.9H1634.0V390.5H1633.0ZM1634.0 217.4H1635.0V232.4H1634.0ZM1636.0 219.8H1637.0V229.8H1636.0ZM1636.0 368.0H1637.0V377.0H1636.0ZM1638.0 363.7H1639.0V375.6H1638.0ZM1639.0 229.0H1640.0V242.3H1639.0ZM1641.0 232.9H1642.0V250.7H1641.0ZM1641.0 364.7H1642.0V375.7H1641.0ZM1644.0 238.6H1645.0V250.2H1644.0ZM1644.0 370.1H1645.0V378.7H1644.0ZM1647.0 236.5H1648.0V247.3H1647.0ZM1649.0 365.2H1650.0V376.0H1649.0ZM1652.0 234.9H1653.0V245.2H1652.0ZM1654.0 243.5H1655.0V253.5H1654.0ZM1654.0 360.5H1655.0V370.6H1654.0ZM1657.0 363.6H1658.0V378.2H1657.0ZM1659.0 350.6H1660.0V361.5H1659.0ZM1660.0 267.7H1661.0V272.5H1660.0ZM1662.0 342.8H1663.0V350.2H1662.0ZM1664.0 336.3H1665.0V344.0H1664.0ZM1665.0 290.8H1666.0V293.3H1665.0ZM1667.0 290.3H1668.0V297.9H1667.0ZM1667.0 335.6H1668.0V337.9H1667.0ZM1672.0 331.7H1673.0V336.2H1672.0ZM1673.0 301.6H1674.0V303.2H1673.0ZM1675.0 309.0H1676.0V310.0H1675.0ZM1675.0 324.5H1676.0V327.1H1675.0ZM1677.0 322.5H1678.0V323.3H1677.0ZM1680.0 308.9H1681.0V310.0H1680.0ZM1680.0 322.4H1681.0V324.3H1680.0Z" fill="#008000" fill-opacity="0.5"/>
<path d="M1690.9 317.0V314.7H1691.0V303.3H1692.0V291.3H1693.0V281.2H1694.0V282.9H1695.0V269.6H1696.0V264.1H1697.0V267.3H1698.0V262.5H1699.0V252.3H1700.0V254.2H1701.0V260.5H1702.0V270.8H1703.0V247.5H1704.0V267.6H1705.0V251.6H1706.0V240.3H1707.0V256.9H1708.0V238.4H1709.0V246.3H1710.0V232.2H1711.0V237.2H1712.0V235.7H1713.0V211.3H1714.0V205.4H1715.0V200.4H1716.0V204.2H1717.0V217.4H1718.0V190.9H1719.0V193.9H1720.0V194.1H1721.0V172.1H1722.0V204.5H1723.0V187.4H1724.0V193.7H1725.0V220.4H1726.0V208.6H1727.0V215.8H1728.0V233.4H1729.0V192.4H1730.0V179.2H1731.0V187.7H1732.0V190.7H1733.0V210.5H1734.0V206.6H1735.0V240.6H1736.0V214.9H1737.0V195.3H1738.0V193.3H1739.0V193.5H1740.0V181.5H1741.0V202.2H1742.0V192.0H1743.0V208.6H1744.0V188.6H1745.0V196.3H1746.0V218.0H1747.0V198.0H1748.0V218.4H1749.0V199.6H1750.0V195.4H1751.0V190.9H1752.0V203.8H1753.0V210.5H1754.0V229.6H1755.0V226.8H1756.0V250.5H1757.0V239.2H1758.0V255.5H1759.0V273.8H1760.0V265.4H1761.0V293.6H1762.0V295.2H1763.0V301.4H1764.0V309.2H1765.0V308.8H1766.0V309.7H1767.0V312.6H1768.0V313.6H1768.5V320.9V320.9H1768.0V325.8H1767.0V325.2H1766.0V324.5H1765.0V324.2H1764.0V330.1H1763.0V329.5H1762.0V339.4H1761.0V345.9H1760.0V341.3H1759.0V351.8H1758.0V352.3H1757.0V347.9H1756.0V365.5H1755.0V366.0H1754.0V395.9H1753.0V402.6H1752.0V391.1H1751.0V417.9H1750.0V397.9H1749.0V410.7H1748.0V407.0H1747.0V393.5H1746.0V407.0H1745.0V405.2H1744.0V391.4H1743.0V415.0H1742.0V399.9H1741.0V408.7H1740.0V402.1H1739.0V385.3H1738.0V390.1H1737.0V379.6H1736.0V390.2H1735.0V393.2H1734.0V382.1H1733.0V405.0H1732.0V401.1H1731.0V376.1H1730.0V391.4H1729.0V378.1H1728.0V389.3H1727.0V393.2H1726.0V374.7H1725.0V393.6H1724.0V381.7H1723.0V406.9H1722.0V424.9H1721.0V404.9H1720.0V408.9H1719.0V404.9H1718.0V407.0H1717.0V399.9H1716.0V382.4H1715.0V387.3H1714.0V379.6H1713.0V370.5H1712.0V387.2H1711.0V366.5H1710.0V382.7H1709.0V380.5H1708.0V373.6H1707.0V394.3H1706.0V397.1H1705.0V370.7H1704.0V368.0H1703.0V352.7H1702.0V362.8H1701.0V360.2H1700.0V346.9H1699.0V353.9H1698.0V346.1H1697.0V351.5H1696.0V349.5H1695.0V339.7H1694.0V345.0H1693.0V341.1H1692.0V330.6H1691.0V318.9H1690.9Z" fill="#0000FF"/>
<path d="M1691.0 302.3H1692.0V303.3H1691.0ZM1691.0 330.6H1692.0V334.4H1691.0ZM1694.0 275.0H1695.0V282.9H1694.0ZM1694.0 339.7H1695.0V346.9H1694.0ZM1697.0 346.1H1698.0V350.4H1697.0ZM1699.0 346.9H1700.0V356.6H1699.0ZM1702.0 256.6H1703.0V270.8H1702.0ZM1702.0 352.7H1703.0V363.9H1702.0ZM1704.0 252.6H1705.0V267.6H1704.0ZM1704.0 370.7H1705.0V382.0H1704.0ZM1707.0 242.5H1708.0V256.9H1707.0ZM1707.0 373.6H1708.0V383.2H1707.0ZM1709.0 234.5H1710.0V246.3H1709.0ZM1710.0 366.5H1711.0V381.5H1710.0ZM1712.0 224.2H1713.0V235.7H1712.0ZM1712.0 370.5H1713.0V381.0H1712.0ZM1715.0 382.4H1716.0V390.5H1715.0ZM1717.0 202.4H1718.0V217.4H1717.0ZM1720.0 179.1H1721.0V194.1H1720.0ZM1720.0 404.9H1721.0V419.9H1720.0ZM1722.0 189.5H1723.0V204.5H1722.0ZM1723.0 381.7H1724.0V400.2H1723.0ZM1725.0 205.4H1726.0V220.4H1725.0ZM1725.0 374.7H1726.0V389.7H1725.0ZM1728.0 218.4H1729.0V233.4H1728.0ZM1728.0 378.1H1729.0V385.4H1728.0ZM1730.0 376.1H1731.0V391.1H1730.0ZM1733.0 195.5H1734.0V210.5H1733.0ZM1733.0 382.1H1734.0V397.2H1733.0ZM1735.0 227.9H1736.0V240.6H1735.0ZM1736.0 379.6H1737.0V384.2H1736.0ZM1738.0 385.3H1739.0V393.2H1738.0ZM1741.0 187.2H1742.0V202.2H1741.0ZM1741.0 399.9H1742.0V411.3H1741.0ZM1743.0 193.6H1744.0V208.6H1743.0ZM1743.0 391.4H1744.0V406.4H1743.0ZM1746.0 203.0H1747.0V218.0H1746.0ZM1746.0 393.5H1747.0V404.6H1746.0ZM1748.0 203.4H1749.0V218.4H1748.0ZM1749.0 397.9H1750.0V412.9H1749.0ZM1751.0 391.1H1752.0V407.4H1751.0ZM1754.0 214.6H1755.0V229.6H1754.0ZM1754.0 366.0H1755.0V378.2H1754.0ZM1756.0 232.3H1757.0V250.5H1756.0ZM1756.0 347.9H1757.0V355.6H1756.0ZM1759.0 265.4H1760.0V273.8H1759.0ZM1759.0 341.3H1760.0V348.3H1759.0ZM1761.0 289.9H1762.0V293.6H1761.0ZM1762.0 329.5H1763.0V332.4H1762.0ZM1764.0 307.9H1765.0V309.2H1764.0ZM1764.0 324.2H1765.0V327.1H1764.0ZM1767.0 311.7H1768.0V312.6H1767.0Z" fill="#0000FF" fill-opacity="0.5"/>
<path d="M1777.2 317.0V309.6H1778.0V306.4H1779.0V307.3H1780.0V311.2H1781.0V309.6H1782.0V310.9H1783.0V312.5H1784.0V311.7H1785.0V313.0H1786.0V312.0H1787.0V312.3H1788.0V312.2H1789.0V312.2H1790.0V313.0H1791.0V311.7H1792.0V311.6H1793.0V312.0H1794.0V308.3H1795.0V306.3H1796.0V308.8H1797.0V304.0H1798.0V303.7H1799.0V292.8H1800.0V282.8H1801.0V277.7H1802.0V254.2H1803.0V241.6H1804.0V245.1H1805.0V244.2H1806.0V237.2H1807.0V241.5H1808.0V262.6H1809.0V266.6H1810.0V258.5H1811.0V271.9H1812.0V262.5H1813.0V265.7H1814.0V283.6H1815.0V276.2H1816.0V289.2H1817.0V289.4H1818.0V289.8H1819.0V286.5H1820.0V272.7H1821.0V267.0H1822.0V272.1H1823.0V257.2H1824.0V271.9H1825.0V253.8H1826.0V247.9H1827.0V241.6H1828.0V246.3H1829.0V274.6H1830.0V259.7H1831.0V260.8H1832.0V270.4H1833.0V258.5H1834.0V262.6H1835.0V275.5H1836.0V271.0H1837.0V283.0H1838.0V291.2H1839.0V299.3H1840.0V307.9H1841.0V307.4H1842.0V309.9H1843.0V308.5H1844.0V308.8H1845.0V310.9H1846.0V309.8H1847.0V310.4H1848.0V312.8H1849.0V311.7H1850.0V313.0H1851.0V312.4H1852.0V312.7H1853.0V312.9H1854.0V313.0H1855.0V313.1H1856.0V313.3H1857.0V313.3H1858.0V313.4H1859.0V313.5H1860.0V313.6H1861.0V313.6H1862.0V313.8H1863.0V313.8H1864.0V313.9H1865.0V314.0H1866.0V314.0H1867.0V314.1H1868.0V314.1H1869.0V314.2H1870.0V314.2H1871.0V314.4H1872.0V314.5H1873.0V314.6H1874.0V314.6H1875.0V314.6H1876.0V314.7H1877.0V314.8H1878.0V315.0H1879.0V315.0H1880.0V315.1H1881.0V315.3H1882.0V318.1V318.1H1881.0V318.2H1880.0V318.2H1879.0V318.3H1878.0V318.4H1877.0V318.5H1876.0V318.6H1875.0V318.7H1874.0V318.8H1873.0V318.9H1872.0V319.0H1871.0V319.0H1870.0V319.2H1869.0V319.3H1868.0V319.4H1867.0V319.5H1866.0V319.5H1865.0V319.6H1864.0V319.7H1863.0V319.9H1862.0V320.0H1861.0V320.0H1860.0V320.2H1859.0V320.2H1858.0V320.4H1857.0V320.5H1856.0V320.5H1855.0V320.9H1854.0V321.0H1853.0V321.3H1852.0V321.3H1851.0V321.6H1850.0V321.8H1849.0V322.5H1848.0V323.0H1847.0V323.0H1846.0V324.5H1845.0V322.3H1844.0V323.9H1843.0V323.7H1842.0V321.9H1841.0V324.5H1840.0V328.7H1839.0V334.1H1838.0V344.5H1837.0V343.1H1836.0V361.4H1835.0V367.3H1834.0V362.0H1833.0V370.8H1832.0V371.1H1831.0V370.9H1830.0V368.5H1829.0V358.0H1828.0V371.4H1827.0V372.4H1826.0V354.5H1825.0V370.4H1824.0V357.5H1823.0V373.7H1822.0V364.6H1821.0V349.2H1820.0V345.6H1819.0V342.2H1818.0V348.5H1817.0V351.8H1816.0V353.4H1815.0V363.4H1814.0V369.8H1813.0V378.8H1812.0V376.6H1811.0V363.8H1810.0V374.0H1809.0V375.0H1808.0V356.6H1807.0V374.3H1806.0V386.6H1805.0V382.8H1804.0V375.9H1803.0V360.6H1802.0V367.4H1801.0V350.2H1800.0V332.9H1799.0V333.3H1798.0V328.0H1797.0V326.3H1796.0V324.4H1795.0V321.6H1794.0V321.8H1793.0V321.9H1792.0V321.9H1791.0V321.8H1790.0V321.8H1789.0V321.7H1788.0V322.3H1787.0V322.2H1786.0V323.2H1785.0V322.5H1784.0V324.1H1783.0V324.5H1782.0V323.3H1781.0V324.4H1780.0V324.5H1779.0V324.0H1778.0V322.2H1777.2Z" fill="#FF0000"/>
<path d="M1777.2 308.6H1778.0V309.6H1777.2ZM1780.0 309.2H1781.0V311.2H1780.0ZM1781.0 323.3H1782.0V323.9H1781.0ZM1783.0 311.7H1784.0V312.5H1783.0ZM1784.0 322.5H1785.0V323.3H1784.0ZM1785.0 312.2H1786.0V313.0H1785.0ZM1786.0 322.2H1787.0V322.4H1786.0ZM1790.0 312.2H1791.0V313.0H1790.0ZM1793.0 310.7H1794.0V312.0H1793.0ZM1794.0 321.6H1795.0V322.3H1794.0ZM1796.0 306.1H1797.0V308.8H1796.0ZM1797.0 328.0H1798.0V328.7H1797.0ZM1798.0 300.2H1799.0V303.7H1798.0ZM1799.0 332.9H1800.0V336.7H1799.0ZM1801.0 272.0H1802.0V277.7H1801.0ZM1802.0 360.6H1803.0V368.5H1802.0ZM1807.0 356.6H1808.0V367.5H1807.0ZM1809.0 260.0H1810.0V266.6H1809.0ZM1810.0 363.8H1811.0V370.6H1810.0ZM1811.0 265.2H1812.0V271.9H1811.0ZM1814.0 270.5H1815.0V283.6H1814.0ZM1815.0 353.4H1816.0V356.0H1815.0ZM1816.0 284.3H1817.0V289.2H1816.0ZM1818.0 342.2H1819.0V345.3H1818.0ZM1819.0 282.9H1820.0V286.5H1819.0ZM1820.0 349.2H1821.0V354.5H1820.0ZM1822.0 262.5H1823.0V272.1H1822.0ZM1823.0 357.5H1824.0V368.4H1823.0ZM1824.0 260.1H1825.0V271.9H1824.0ZM1825.0 354.5H1826.0V370.7H1825.0ZM1828.0 358.0H1829.0V367.8H1828.0ZM1829.0 258.4H1830.0V274.6H1829.0ZM1832.0 260.5H1833.0V270.4H1832.0ZM1833.0 362.0H1834.0V369.8H1833.0ZM1835.0 267.5H1836.0V275.5H1835.0ZM1836.0 343.1H1837.0V348.2H1836.0ZM1837.0 278.5H1838.0V283.0H1837.0ZM1838.0 334.1H1839.0V336.5H1838.0ZM1840.0 307.1H1841.0V307.9H1840.0ZM1841.0 321.9H1842.0V323.4H1841.0ZM1842.0 308.4H1843.0V309.9H1842.0ZM1844.0 322.3H1845.0V324.1H1844.0ZM1845.0 309.2H1846.0V310.9H1845.0ZM1846.0 323.0H1847.0V323.3H1846.0ZM1848.0 311.3H1849.0V312.8H1848.0ZM1850.0 312.2H1851.0V313.0H1850.0Z" fill="#FF0000" fill-opacity="0.5"/>
<path d="M1891.0 317.0V315.4H1892.0V315.4H1893.0V315.3H1894.0V315.2H1895.0V315.2H1896.0V315.2H1897.0V315.1H1898.0V315.0H1899.0V315.1H1900.0V315.0H1901.0V315.1H1902.0V315.0H1903.0V315.1H1904.0V315.1H1905.0V315.1H1906.0V315.1H1907.0V315.0H1908.0V315.0H1909.0V315.1H1910.0V315.0H1911.0V310.0H1912.0V299.6H1913.0V294.5H1914.0V291.6H1915.0V291.3H1916.0V305.4H1917.0V306.5H1918.0V295.7H1919.0V288.2H1920.0V288.1H1921.0V273.6H1922.0V268.7H1923.0V279.1H1924.0V263.9H1925.0V269.1H1926.0V250.9H1927.0V250.2H1928.0V270.0H1929.0V252.2H1930.0V262.9H1931.0V241.8H1932.0V241.1H1933.0V253.3H1934.0V247.3H1935.0V240.3H1936.0V250.1H1937.0V230.1H1938.0V241.7H1939.0V214.2H1940.0V216.2H1941.0V230.8H1942.0V214.2H1943.0V235.1H1944.0V217.8H1945.0V220.1H1946.0V239.2H1947.0V233.9H1948.0V236.1H1949.0V250.2H1950.0V247.1H1951.0V257.0H1952.0V247.8H1953.0V243.1H1954.0V259.4H1955.0V238.4H1956.0V257.3H1957.0V237.9H1958.0V236.5H1959.0V251.3H1960.0V245.9H1961.0V239.6H1962.0V248.6H1963.0V223.4H1964.0V246.4H1965.0V249.0H1966.0V250.2H1967.0V264.4H1968.0V259.0H1969.0V267.2H1970.0V263.0H1971.0V259.9H1972.0V274.2H1973.0V256.0H1974.0V253.7H1975.0V253.3H1976.0V255.5H1977.0V264.1H1978.0V260.8H1979.0V265.0H1980.0V274.8H1981.0V269.2H1982.0V281.1H1983.0V269.8H1984.0V266.8H1985.0V262.1H1986.0V264.7H1987.0V266.5H1988.0V269.7H1989.0V255.1H1990.0V262.8H1991.0V248.6H1992.0V245.7H1993.0V256.2H1994.0V249.2H1995.0V254.4H1996.0V242.1H1997.0V238.6H1998.0V249.1H1999.0V221.8H2000.0V217.3H2001.0V236.4H2002.0V219.9H2003.0V215.5H2004.0V219.9H2005.0V221.1H2006.0V215.5H2007.0V219.9H2008.0V237.3H2009.0V223.7H2010.0V225.8H2011.0V241.9H2012.0V225.5H2013.0V228.7H2014.0V244.6H2015.0V233.3H2016.0V245.3H2017.0V241.1H2018.0V238.2H2019.0V248.4H2020.0V233.8H2021.0V250.6H2022.0V236.1H2023.0V236.7H2024.0V254.8H2025.0V239.5H2026.0V239.0H2027.0V254.7H2028.0V235.6H2029.0V243.9H2030.0V229.3H2031.0V228.9H2032.0V226.5H2033.0V233.0H2034.0V252.1H2035.0V237.1H2036.0V235.5H2037.0V234.8H2038.0V236.9H2039.0V237.0H2040.0V255.7H2041.0V237.0H2042.0V248.8H2043.0V231.4H2044.0V232.5H2045.0V242.7H2046.0V235.6H2047.0V248.2H2048.0V236.1H2049.0V233.8H2050.0V253.6H2051.0V235.9H2052.0V235.5H2053.0V244.5H2054.0V234.4H2055.0V256.3H2056.0V243.1H2057.0V250.9H2058.0V260.7H2059.0V236.5H2060.0V234.4H2061.0V236.1H2062.0V239.8H2063.0V258.8H2064.0V242.6H2065.0V242.6H2066.0V259.3H2067.0V240.2H2068.0V237.5H2069.0V240.2H2070.0V243.9H2071.0V257.0H2072.0V252.1H2073.0V269.2H2074.0V250.1H2075.0V248.7H2076.0V262.8H2077.0V244.1H2078.0V243.4H2079.0V251.7H2080.0V239.2H2081.0V253.8H2082.0V235.4H2083.0V233.4H2084.0V230.7H2085.0V233.7H2086.0V252.1H2087.0V233.9H2088.0V232.5H2089.0V255.1H2090.0V245.5H2091.0V254.4H2092.0V270.7H2093.0V265.8H2094.0V275.4H2095.0V271.0H2096.0V276.1H2097.0V287.6H2098.0V277.4H2099.0V276.7H2100.0V278.8H2101.0V278.5H2102.0V288.6H2103.0V281.7H2104.0V284.6H2105.0V294.2H2106.0V290.1H2107.0V297.0H2108.0V294.8H2109.0V296.3H2110.0V301.4H2111.0V297.2H2112.0V299.9H2113.0V293.5H2114.0V292.0H2115.0V298.6H2116.0V290.5H2117.0V289.1H2118.0V292.6H2119.0V281.6H2120.0V288.7H2121.0V280.0H2122.0V279.5H2123.0V286.4H2124.0V286.1H2125.0V295.1H2126.0V291.8H2127.0V294.6H2128.0V303.0H2129.0V300.7H2130.0V303.6H2131.0V309.3H2132.0V307.9H2133.0V309.8H2134.0V307.5H2135.0V306.8H2136.0V306.0H2137.0V306.7H2138.0V309.5H2139.0V309.6H2140.0V310.8H2141.0V313.0H2142.0V312.3H2143.0V313.3H2144.0V313.6H2145.0V313.9H2146.0V314.2H2147.0V314.6H2148.0V314.9H2149.0V315.2H2150.0V315.4H2151.0V315.5H2152.0V315.7H2153.0V315.8H2154.0V315.9H2155.0V315.7H2156.0V315.6H2157.0V315.5H2157.7V317.2V317.2H2157.0V317.5H2156.0V317.9H2155.0V318.2H2154.0V318.4H2153.0V318.5H2152.0V318.7H2151.0V318.8H2150.0V319.0H2149.0V319.2H2148.0V319.3H2147.0V319.5H2146.0V319.7H2145.0V319.8H2144.0V320.1H2143.0V320.3H2142.0V320.5H2141.0V320.7H2140.0V321.4H2139.0V322.2H2138.0V321.7H2137.0V323.5H2136.0V323.7H2135.0V323.2H2134.0V324.6H2133.0V324.5H2132.0V326.7H2131.0V327.7H2130.0V326.5H2129.0V331.5H2128.0V333.4H2127.0V329.6H2126.0V336.9H2125.0V334.1H2124.0V342.1H2123.0V343.3H2122.0V338.5H2121.0V341.3H2120.0V334.7H2119.0V340.0H2118.0V339.5H2117.0V336.8H2116.0V342.8H2115.0V343.1H2114.0V339.9H2113.0V344.8H2112.0V338.7H2111.0V345.5H2110.0V347.9H2109.0V341.7H2108.0V353.9H2107.0V345.8H2106.0V353.5H2105.0V353.9H2104.0V342.2H2103.0V352.7H2102.0V353.3H2101.0V342.9H2100.0V353.6H2099.0V346.6H2098.0V360.8H2097.0V363.0H2096.0V348.6H2095.0V360.2H2094.0V350.8H2093.0V355.8H2092.0V353.1H2091.0V344.9H2090.0V360.8H2089.0V365.6H2088.0V365.2H2087.0V374.9H2086.0V363.4H2085.0V368.8H2084.0V366.8H2083.0V356.0H2082.0V372.1H2081.0V355.5H2080.0V368.9H2079.0V369.3H2078.0V361.1H2077.0V372.6H2076.0V374.0H2075.0V357.2H2074.0V368.7H2073.0V354.1H2072.0V370.0H2071.0V371.4H2070.0V366.3H2069.0V384.5H2068.0V372.2H2067.0V379.5H2066.0V378.4H2065.0V364.8H2064.0V377.4H2063.0V379.1H2062.0V371.1H2061.0V385.8H2060.0V375.1H2059.0V380.2H2058.0V372.5H2057.0V354.3H2056.0V371.4H2055.0V365.4H2054.0V375.1H2053.0V378.7H2052.0V370.3H2051.0V384.8H2050.0V386.5H2049.0V388.9H2048.0V386.7H2047.0V373.0H2046.0V380.7H2045.0V378.6H2044.0V365.1H2043.0V378.1H2042.0V365.9H2041.0V381.3H2040.0V379.3H2039.0V371.0H2038.0V377.3H2037.0V375.4H2036.0V361.9H2035.0V368.8H2034.0V361.0H2033.0V365.3H2032.0V363.4H2031.0V353.5H2030.0V363.7H2029.0V357.5H2028.0V359.4H2027.0V359.0H2026.0V349.8H2025.0V359.2H2024.0V361.5H2023.0V354.8H2022.0V366.2H2021.0V368.4H2020.0V366.1H2019.0V363.2H2018.0V347.6H2017.0V361.0H2016.0V357.7H2015.0V364.0H2014.0V366.9H2013.0V360.8H2012.0V369.7H2011.0V371.1H2010.0V360.3H2009.0V373.4H2008.0V365.8H2007.0V380.3H2006.0V378.8H2005.0V358.6H2004.0V368.1H2003.0V360.8H2002.0V373.7H2001.0V379.8H2000.0V384.9H1999.0V379.7H1998.0V374.6H1997.0V362.0H1996.0V371.4H1995.0V358.3H1994.0V369.0H1993.0V373.7H1992.0V366.7H1991.0V382.1H1990.0V372.1H1989.0V377.5H1988.0V374.3H1987.0V364.3H1986.0V373.3H1985.0V372.0H1984.0V357.1H1983.0V375.1H1982.0V373.4H1981.0V385.8H1980.0V385.3H1979.0V367.4H1978.0V382.0H1977.0V365.1H1976.0V382.3H1975.0V387.5H1974.0V393.1H1973.0V387.2H1972.0V383.5H1971.0V371.4H1970.0V384.8H1969.0V372.0H1968.0V386.6H1967.0V390.4H1966.0V369.8H1965.0V391.4H1964.0V399.5H1963.0V398.0H1962.0V387.9H1961.0V368.6H1960.0V376.6H1959.0V373.1H1958.0V360.7H1957.0V371.4H1956.0V358.4H1955.0V366.1H1954.0V365.0H1953.0V350.9H1952.0V365.4H1951.0V363.8H1950.0V372.3H1949.0V381.8H1948.0V391.3H1947.0V388.8H1946.0V390.7H1945.0V376.5H1944.0V394.5H1943.0V377.5H1942.0V396.3H1941.0V399.9H1940.0V382.3H1939.0V401.0H1938.0V390.4H1937.0V411.4H1936.0V405.5H1935.0V390.4H1934.0V403.1H1933.0V404.6H1932.0V405.9H1931.0V396.1H1930.0V371.0H1929.0V382.5H1928.0V384.9H1927.0V372.0H1926.0V375.4H1925.0V362.5H1924.0V365.5H1923.0V362.8H1922.0V350.2H1921.0V352.0H1920.0V343.4H1919.0V331.0H1918.0V329.2H1917.0V326.2H1916.0V328.3H1915.0V328.1H1914.0V324.7H1913.0V327.4H1912.0V322.9H1911.0V317.8H1910.0V317.8H1909.0V317.8H1908.0V317.8H1907.0V317.8H1906.0V317.8H1905.0V317.8H1904.0V317.8H1903.0V317.8H1902.0V317.8H1901.0V317.8H1900.0V317.8H1899.0V317.7H1898.0V317.7H1897.0V317.6H1896.0V317.6H1895.0V317.5H1894.0V317.5H1893.0V317.4H1892.0V317.3H1891.0Z" fill="#0072BD"/>
<path d="M1911.0 322.9H1912.0V323.6H1911.0ZM1912.0 296.2H1913.0V299.6H1912.0ZM1913.0 324.7H1914.0V327.7H1913.0ZM1916.0 326.2H1917.0V329.0H1916.0ZM1917.0 302.9H1918.0V306.5H1917.0ZM1918.0 331.0H1919.0V333.9H1918.0ZM1920.0 280.9H1921.0V288.1H1920.0ZM1921.0 350.2H1922.0V355.2H1921.0ZM1923.0 266.6H1924.0V279.1H1923.0ZM1924.0 362.5H1925.0V366.2H1924.0ZM1925.0 259.6H1926.0V269.1H1925.0ZM1926.0 372.0H1927.0V379.1H1926.0ZM1928.0 255.4H1929.0V270.0H1928.0ZM1929.0 371.0H1930.0V388.2H1929.0ZM1930.0 251.1H1931.0V262.9H1930.0ZM1933.0 247.5H1934.0V253.3H1933.0ZM1934.0 390.4H1935.0V404.6H1934.0ZM1936.0 235.1H1937.0V250.1H1936.0ZM1937.0 390.4H1938.0V403.7H1937.0ZM1938.0 225.7H1939.0V241.7H1938.0ZM1939.0 382.3H1940.0V398.3H1939.0ZM1941.0 220.0H1942.0V230.8H1941.0ZM1942.0 377.5H1943.0V393.0H1942.0ZM1943.0 217.3H1944.0V235.1H1943.0ZM1944.0 376.5H1945.0V392.2H1944.0ZM1946.0 229.6H1947.0V239.2H1946.0ZM1949.0 245.9H1950.0V250.2H1949.0ZM1950.0 363.8H1951.0V368.9H1950.0ZM1951.0 248.1H1952.0V257.0H1951.0ZM1952.0 350.9H1953.0V364.0H1952.0ZM1954.0 243.2H1955.0V259.4H1954.0ZM1955.0 358.4H1956.0V365.6H1955.0ZM1956.0 240.9H1957.0V257.3H1956.0ZM1957.0 360.7H1958.0V370.2H1957.0ZM1959.0 242.4H1960.0V251.3H1959.0ZM1960.0 368.6H1961.0V378.9H1960.0ZM1962.0 233.6H1963.0V248.6H1962.0ZM1964.0 230.9H1965.0V246.4H1964.0ZM1965.0 369.8H1966.0V387.1H1965.0ZM1967.0 254.8H1968.0V264.4H1967.0ZM1968.0 372.0H1969.0V387.0H1968.0ZM1969.0 262.3H1970.0V267.2H1969.0ZM1970.0 371.4H1971.0V381.4H1970.0ZM1972.0 262.6H1973.0V274.2H1972.0ZM1976.0 365.1H1977.0V380.0H1976.0ZM1977.0 257.6H1978.0V264.1H1977.0ZM1978.0 367.4H1979.0V383.1H1978.0ZM1980.0 266.3H1981.0V274.8H1980.0ZM1981.0 373.4H1982.0V378.6H1981.0ZM1982.0 270.0H1983.0V281.1H1982.0ZM1983.0 357.1H1984.0V372.7H1983.0ZM1986.0 364.3H1987.0V369.6H1986.0ZM1988.0 262.5H1989.0V269.7H1988.0ZM1989.0 372.1H1990.0V377.8H1989.0ZM1990.0 253.8H1991.0V262.8H1990.0ZM1991.0 366.7H1992.0V374.8H1991.0ZM1993.0 248.2H1994.0V256.2H1993.0ZM1994.0 358.3H1995.0V368.5H1994.0ZM1995.0 247.0H1996.0V254.4H1995.0ZM1996.0 362.0H1997.0V371.7H1996.0ZM1998.0 234.1H1999.0V249.1H1998.0ZM2001.0 221.4H2002.0V236.4H2001.0ZM2002.0 360.8H2003.0V364.4H2002.0ZM2004.0 358.6H2005.0V370.0H2004.0ZM2007.0 365.8H2008.0V374.6H2007.0ZM2008.0 223.0H2009.0V237.3H2008.0ZM2009.0 360.3H2010.0V370.9H2009.0ZM2011.0 223.9H2012.0V241.9H2011.0ZM2012.0 360.8H2013.0V365.7H2012.0ZM2014.0 232.6H2015.0V244.6H2014.0ZM2015.0 357.7H2016.0V360.9H2015.0ZM2016.0 239.0H2017.0V245.3H2016.0ZM2017.0 347.6H2018.0V359.6H2017.0ZM2019.0 240.0H2020.0V248.4H2019.0ZM2021.0 237.6H2022.0V250.6H2021.0ZM2022.0 354.8H2023.0V360.4H2022.0ZM2024.0 236.8H2025.0V254.8H2024.0ZM2025.0 349.8H2026.0V356.1H2025.0ZM2027.0 237.6H2028.0V254.7H2027.0ZM2028.0 357.5H2029.0V358.8H2028.0ZM2029.0 236.2H2030.0V243.9H2029.0ZM2030.0 353.5H2031.0V362.4H2030.0ZM2033.0 361.0H2034.0V363.8H2033.0ZM2034.0 239.4H2035.0V252.1H2034.0ZM2035.0 361.9H2036.0V369.1H2035.0ZM2038.0 371.0H2039.0V375.2H2038.0ZM2040.0 240.7H2041.0V255.7H2040.0ZM2041.0 365.9H2042.0V376.8H2041.0ZM2042.0 236.8H2043.0V248.8H2042.0ZM2043.0 365.1H2044.0V377.4H2043.0ZM2045.0 236.4H2046.0V242.7H2045.0ZM2046.0 373.0H2047.0V380.9H2046.0ZM2047.0 237.7H2048.0V248.2H2047.0ZM2050.0 237.6H2051.0V253.6H2050.0ZM2051.0 370.3H2052.0V383.4H2051.0ZM2053.0 239.4H2054.0V244.5H2053.0ZM2054.0 365.4H2055.0V370.1H2054.0ZM2055.0 241.3H2056.0V256.3H2055.0ZM2056.0 354.3H2057.0V366.9H2056.0ZM2058.0 245.5H2059.0V260.7H2058.0ZM2059.0 375.1H2060.0V382.1H2059.0ZM2061.0 371.1H2062.0V378.4H2061.0ZM2063.0 240.2H2064.0V258.8H2063.0ZM2064.0 364.8H2065.0V376.7H2064.0ZM2066.0 244.3H2067.0V259.3H2066.0ZM2067.0 372.2H2068.0V379.5H2067.0ZM2069.0 366.3H2070.0V376.9H2069.0ZM2071.0 252.8H2072.0V257.0H2071.0ZM2072.0 354.1H2073.0V368.1H2072.0ZM2073.0 254.2H2074.0V269.2H2073.0ZM2074.0 357.2H2075.0V368.6H2074.0ZM2076.0 251.5H2077.0V262.8H2076.0ZM2077.0 361.1H2078.0V368.5H2077.0ZM2079.0 242.3H2080.0V251.7H2079.0ZM2080.0 355.5H2081.0V367.1H2080.0ZM2081.0 241.2H2082.0V253.8H2081.0ZM2082.0 356.0H2083.0V369.1H2082.0ZM2085.0 363.4H2086.0V369.6H2085.0ZM2086.0 237.1H2087.0V252.1H2086.0ZM2087.0 365.2H2088.0V370.6H2087.0ZM2089.0 243.2H2090.0V255.1H2089.0ZM2090.0 344.9H2091.0V355.6H2090.0ZM2092.0 265.3H2093.0V270.7H2092.0ZM2093.0 350.8H2094.0V356.7H2093.0ZM2094.0 269.2H2095.0V275.4H2094.0ZM2095.0 348.6H2096.0V359.5H2095.0ZM2097.0 277.8H2098.0V287.6H2097.0ZM2098.0 346.6H2099.0V356.8H2098.0ZM2100.0 342.9H2101.0V350.1H2100.0ZM2102.0 283.0H2103.0V288.6H2102.0ZM2103.0 342.2H2104.0V352.4H2103.0ZM2105.0 286.6H2106.0V294.2H2105.0ZM2106.0 345.8H2107.0V352.9H2106.0ZM2107.0 293.3H2108.0V297.0H2107.0ZM2108.0 341.7H2109.0V349.7H2108.0ZM2110.0 297.7H2111.0V301.4H2110.0ZM2111.0 338.7H2112.0V344.8H2111.0ZM2112.0 295.7H2113.0V299.9H2112.0ZM2113.0 339.9H2114.0V343.4H2113.0ZM2115.0 291.8H2116.0V298.6H2115.0ZM2116.0 336.8H2117.0V341.0H2116.0ZM2118.0 285.3H2119.0V292.6H2118.0ZM2119.0 334.7H2120.0V339.4H2119.0ZM2120.0 281.6H2121.0V288.7H2120.0ZM2121.0 338.5H2122.0V341.7H2121.0ZM2123.0 284.1H2124.0V286.4H2123.0ZM2124.0 334.1H2125.0V339.5H2124.0ZM2125.0 289.7H2126.0V295.1H2125.0ZM2126.0 329.6H2127.0V334.1H2126.0ZM2128.0 297.6H2129.0V303.0H2128.0ZM2129.0 326.5H2130.0V328.6H2129.0ZM2131.0 306.7H2132.0V309.3H2131.0ZM2132.0 324.5H2133.0V325.1H2132.0ZM2133.0 308.6H2134.0V309.8H2133.0ZM2134.0 323.2H2135.0V323.8H2134.0ZM2137.0 321.7H2138.0V322.7H2137.0ZM2138.0 308.4H2139.0V309.5H2138.0ZM2141.0 311.8H2142.0V313.0H2141.0Z" fill="#0072BD" fill-opacity="0.5"/>
<path d="M325.0 48.48V585.0H2263.52" stroke="#262626" stroke-width="1.04" fill="none" stroke-linejoin="miter"/>
<g font-family="Liberation Sans, Arial, Helvetica, sans-serif" font-size="21" fill="#262626"><text transform="translate(325.30 610.9) scale(0.983 1.072)" text-anchor="middle">0</text><text transform="translate(567.55 610.9) scale(0.983 1.072)" text-anchor="middle">0.5</text><text transform="translate(809.80 610.9) scale(0.983 1.072)" text-anchor="middle">1</text><text transform="translate(1052.05 610.9) scale(0.983 1.072)" text-anchor="middle">1.5</text><text transform="translate(1294.30 610.9) scale(0.983 1.072)" text-anchor="middle">2</text><text transform="translate(1536.55 610.9) scale(0.983 1.072)" text-anchor="middle">2.5</text><text transform="translate(1778.80 610.9) scale(0.983 1.072)" text-anchor="middle">3</text><text transform="translate(2021.05 610.9) scale(0.983 1.072)" text-anchor="middle">3.5</text><text transform="translate(2263.30 610.9) scale(0.983 1.072)" text-anchor="middle">4</text><text transform="translate(316.8 591.75) scale(0.983 1.072)" text-anchor="end">-0.5</text><text transform="translate(316.8 538.15) scale(0.983 1.072)" text-anchor="end">-0.4</text><text transform="translate(316.8 484.55) scale(0.983 1.072)" text-anchor="end">-0.3</text><text transform="translate(316.8 430.95) scale(0.983 1.072)" text-anchor="end">-0.2</text><text transform="translate(316.8 377.35) scale(0.983 1.072)" text-anchor="end">-0.1</text><text transform="translate(316.8 323.75) scale(0.983 1.072)" text-anchor="end">0</text><text transform="translate(316.8 270.15) scale(0.983 1.072)" text-anchor="end">0.1</text><text transform="translate(316.8 216.55) scale(0.983 1.072)" text-anchor="end">0.2</text><text transform="translate(316.8 162.95) scale(0.983 1.072)" text-anchor="end">0.3</text><text transform="translate(316.8 109.35) scale(0.983 1.072)" text-anchor="end">0.4</text><text transform="translate(316.8 55.75) scale(0.983 1.072)" text-anchor="end">0.5</text></g>
<text x="1294" y="638.8" text-anchor="middle" font-family="Liberation Sans, Arial, Helvetica, sans-serif" font-size="23" fill="#262626">Time (s)</text>
<text transform="translate(268.7 317) rotate(-90)" text-anchor="middle" font-family="Liberation Sans, Arial, Helvetica, sans-serif" font-size="23" fill="#262626">Amplitude</text>
<text x="1294.8" y="41" text-anchor="middle" font-family="Liberation Sans, Arial, Helvetica, sans-serif" font-size="23" font-weight="bold" fill="#1a1a1a">Sentence MAT-005-057 (Colored by Word)</text>
</svg></body></html>
